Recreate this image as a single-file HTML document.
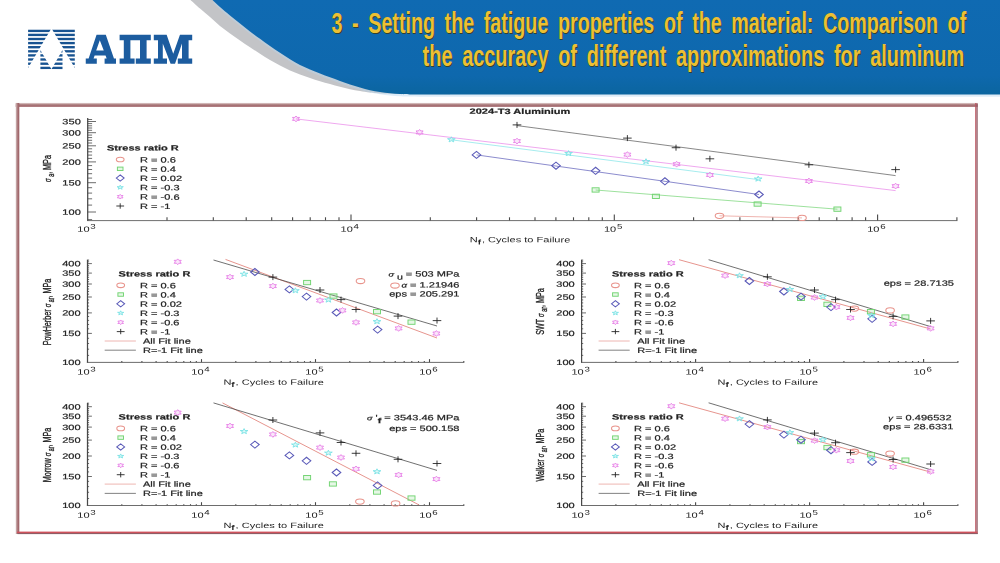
<!DOCTYPE html>
<html><head><meta charset="utf-8"><title>slide</title>
<style>html,body{margin:0;padding:0;background:#fff}body{width:1000px;height:563px;overflow:hidden}svg{display:block}svg text{font-family:"Liberation Sans", sans-serif}</style>
</head><body>
<svg width="1000" height="563" viewBox="0 0 1000 563">
<rect width="1000" height="563" fill="#ffffff"/>
<defs>
<linearGradient id="gb" x1="0" y1="0" x2="0" y2="1"><stop offset="0" stop-color="#0f6ab2"/><stop offset="0.8" stop-color="#0e68ad"/><stop offset="1" stop-color="#0b659f"/></linearGradient>
<linearGradient id="gl" x1="0" y1="0" x2="0" y2="1"><stop offset="0" stop-color="#a9cdea"/><stop offset="1" stop-color="#ffffff"/></linearGradient>
<filter id="bl" x="-2%" y="-2%" width="104%" height="104%"><feGaussianBlur stdDeviation="0.7 0.5"/></filter>
<filter id="bl2" x="-5%" y="-5%" width="110%" height="110%"><feGaussianBlur stdDeviation="0.6"/></filter>
</defs>
<path d="M190.50,0.00 C192.08,1.42 196.75,5.67 200.00,8.50 C203.25,11.33 206.67,14.08 210.00,17.00 C213.33,19.92 216.67,23.25 220.00,26.00 C223.33,28.75 226.67,31.08 230.00,33.50 C233.33,35.92 236.67,38.22 240.00,40.50 C243.33,42.78 246.67,45.00 250.00,47.20 C253.33,49.40 256.67,51.57 260.00,53.70 C263.33,55.83 266.67,58.03 270.00,60.00 C273.33,61.97 276.67,63.75 280.00,65.50 C283.33,67.25 286.67,69.00 290.00,70.50 C293.33,72.00 296.67,73.25 300.00,74.50 C303.33,75.75 306.67,76.88 310.00,78.00 C313.33,79.12 316.67,80.20 320.00,81.20 C323.33,82.20 326.67,83.07 330.00,84.00 C333.33,84.93 336.67,85.93 340.00,86.80 C343.33,87.67 346.67,88.50 350.00,89.20 C353.33,89.90 356.67,90.45 360.00,91.00 C363.33,91.55 366.33,92.07 370.00,92.50 C373.67,92.93 380.00,93.42 382.00,93.60 L450,94.6 L450,0 Z" fill="#c3c4c7"/>
<path d="M212.50,2.20 C213.75,3.37 217.08,6.62 220.00,9.20 C222.92,11.78 226.67,14.95 230.00,17.70 C233.33,20.45 236.67,23.03 240.00,25.70 C243.33,28.37 246.67,31.15 250.00,33.70 C253.33,36.25 256.67,38.58 260.00,41.00 C263.33,43.42 266.67,45.88 270.00,48.20 C273.33,50.52 276.67,52.68 280.00,54.90 C283.33,57.12 286.67,59.45 290.00,61.50 C293.33,63.55 296.67,65.50 300.00,67.20 C303.33,68.90 306.67,70.28 310.00,71.70 C313.33,73.12 316.67,74.40 320.00,75.70 C323.33,77.00 326.67,78.25 330.00,79.50 C333.33,80.75 336.67,82.00 340.00,83.20 C343.33,84.40 346.67,85.60 350.00,86.70 C353.33,87.80 356.67,88.85 360.00,89.80 C363.33,90.75 366.67,91.67 370.00,92.40 C373.33,93.13 376.67,93.70 380.00,94.20 C383.33,94.70 386.67,95.07 390.00,95.40 C393.33,95.73 396.67,96.00 400.00,96.20 C403.33,96.40 405.00,96.50 410.00,96.60 C415.00,96.70 423.33,96.77 430.00,96.80 C436.67,96.83 446.67,96.80 450.00,96.80 L1000,96.8 L1000,0 Z" fill="#b9d6ee" opacity="0.45" filter="url(#bl2)"/>
<path d="M212.50,0.00 C213.75,1.17 217.08,4.42 220.00,7.00 C222.92,9.58 226.67,12.75 230.00,15.50 C233.33,18.25 236.67,20.83 240.00,23.50 C243.33,26.17 246.67,28.95 250.00,31.50 C253.33,34.05 256.67,36.38 260.00,38.80 C263.33,41.22 266.67,43.68 270.00,46.00 C273.33,48.32 276.67,50.48 280.00,52.70 C283.33,54.92 286.67,57.25 290.00,59.30 C293.33,61.35 296.67,63.30 300.00,65.00 C303.33,66.70 306.67,68.08 310.00,69.50 C313.33,70.92 316.67,72.20 320.00,73.50 C323.33,74.80 326.67,76.05 330.00,77.30 C333.33,78.55 336.67,79.80 340.00,81.00 C343.33,82.20 346.67,83.40 350.00,84.50 C353.33,85.60 356.67,86.65 360.00,87.60 C363.33,88.55 366.67,89.47 370.00,90.20 C373.33,90.93 376.67,91.50 380.00,92.00 C383.33,92.50 386.67,92.87 390.00,93.20 C393.33,93.53 396.67,93.80 400.00,94.00 C403.33,94.20 405.00,94.30 410.00,94.40 C415.00,94.50 423.33,94.57 430.00,94.60 C436.67,94.63 446.67,94.60 450.00,94.60 L1000,94.6 L1000,0 Z" fill="url(#gb)"/>
<defs><clipPath id="lc">
<polygon points="28.1,29 51.0,29 28.1,68.1"/>
<polygon points="74.8,29 51.9,29 74.8,68.1"/>
<polygon points="40.4,50.0 40.4,70 51.45,69.2"/>
<polygon points="62.5,50.0 62.5,70 51.45,69.2"/>
</clipPath></defs>
<g clip-path="url(#lc)" fill="#185391">
<rect x="28" y="29.73" width="47" height="2.35"/>
<rect x="28" y="33.73" width="47" height="2.35"/>
<rect x="28" y="37.83" width="47" height="2.35"/>
<rect x="28" y="41.93" width="47" height="2.35"/>
<rect x="28" y="46.03" width="47" height="2.35"/>
<rect x="28" y="50.13" width="47" height="2.35"/>
<rect x="28" y="54.23" width="47" height="2.35"/>
<rect x="28" y="58.33" width="47" height="2.35"/>
<rect x="28" y="62.53" width="47" height="2.35"/>
<rect x="28" y="66.73" width="47" height="2.35"/>
</g>
<path fill="#1c5c9f" fill-rule="evenodd" d="M96.56,34.64 L105.80,34.64 L113.96,58.40 L116.00,58.40 L116.00,63.80 L104.60,63.80 L104.60,58.40 L106.64,58.40 L105.56,55.40 L94.64,55.40 L93.56,58.40 L96.80,58.40 L96.80,63.80 L85.76,63.80 L85.76,58.40 L88.64,58.40 Z M96.20,50.60 L103.76,50.60 L99.80,40.16 Z M119.60,34.64 L150.80,34.64 L150.80,40.16 L146.60,40.16 L146.60,58.40 L150.80,58.40 L150.80,63.80 L135.80,63.80 L135.80,58.40 L140.00,58.40 L140.00,40.16 L130.40,40.16 L130.40,58.40 L134.60,58.40 L134.60,63.80 L119.60,63.80 L119.60,58.40 L123.80,58.40 L123.80,40.16 L119.60,40.16 Z M153.80,34.64 L166.64,34.64 L173.24,53.84 L179.96,34.64 L192.20,34.64 L192.20,40.16 L188.60,40.16 L188.60,58.40 L192.20,58.40 L192.20,63.80 L177.80,63.80 L177.80,58.40 L182.00,58.40 L182.00,43.40 L175.04,63.80 L170.60,63.80 L162.80,43.40 L162.80,58.40 L167.00,58.40 L167.00,63.80 L153.80,63.80 L153.80,58.40 L158.00,58.40 L158.00,40.16 L153.80,40.16 Z"/>
<text x="332.4" y="33.6" font-family='"Liberation Sans", sans-serif' font-weight="bold" font-size="28.6" fill="#33402f" textLength="634.7" lengthAdjust="spacingAndGlyphs" word-spacing="6" xml:space="preserve">3 - Setting the fatigue properties of the material: Comparison of</text>
<text x="331.5" y="32.7" font-family='"Liberation Sans", sans-serif' font-weight="bold" font-size="28.6" fill="#ecc033" textLength="634.7" lengthAdjust="spacingAndGlyphs" word-spacing="6" xml:space="preserve">3 - Setting the fatigue properties of the material: Comparison of</text>
<text x="423.5" y="67.0" font-family='"Liberation Sans", sans-serif' font-weight="bold" font-size="28.6" fill="#33402f" textLength="541.6" lengthAdjust="spacingAndGlyphs" word-spacing="6" xml:space="preserve">the accuracy of different approximations for aluminum</text>
<text x="422.6" y="66.1" font-family='"Liberation Sans", sans-serif' font-weight="bold" font-size="28.6" fill="#ecc033" textLength="541.6" lengthAdjust="spacingAndGlyphs" word-spacing="6" xml:space="preserve">the accuracy of different approximations for aluminum</text>
<defs>
<linearGradient id="ft" x1="0" y1="0" x2="0" y2="1"><stop offset="0" stop-color="#e6d8d8"/><stop offset="0.35" stop-color="#b48a8b"/><stop offset="1" stop-color="#98575d"/></linearGradient>
<linearGradient id="fl" x1="0" y1="0" x2="1" y2="0"><stop offset="0" stop-color="#e6d8d8"/><stop offset="0.35" stop-color="#b48a8b"/><stop offset="1" stop-color="#98575d"/></linearGradient>
</defs>
<rect x="15.6" y="102.9" width="962.2" height="3.9" fill="url(#ft)"/>
<rect x="15.6" y="103" width="3.7" height="431" fill="url(#fl)"/>
<rect x="975.2" y="103" width="1.3" height="431" fill="#bb5560"/>
<rect x="976.5" y="103.5" width="1.2" height="430.5" fill="#8f5d66"/>
<rect x="17" y="531.6" width="960.5" height="1.4" fill="#cf525c"/>
<rect x="17.5" y="533" width="960.2" height="1.1" fill="#8f5d66"/>
<g filter="url(#bl)">
<line x1="87.7" y1="117.9" x2="87.7" y2="220.8" stroke="#484848" stroke-width="1.25"/>
<line x1="87.1" y1="220.6" x2="957.4" y2="220.6" stroke="#484848" stroke-width="0.80"/>
<line x1="167.0" y1="220.4" x2="167.0" y2="217.3" stroke="#484848" stroke-width="1.10"/>
<line x1="213.3" y1="220.4" x2="213.3" y2="217.3" stroke="#484848" stroke-width="1.10"/>
<line x1="246.2" y1="220.4" x2="246.2" y2="217.3" stroke="#484848" stroke-width="1.10"/>
<line x1="271.7" y1="220.4" x2="271.7" y2="217.3" stroke="#484848" stroke-width="1.10"/>
<line x1="292.6" y1="220.4" x2="292.6" y2="217.3" stroke="#484848" stroke-width="1.10"/>
<line x1="310.2" y1="220.4" x2="310.2" y2="217.3" stroke="#484848" stroke-width="1.10"/>
<line x1="325.5" y1="220.4" x2="325.5" y2="217.3" stroke="#484848" stroke-width="1.10"/>
<line x1="339.0" y1="220.4" x2="339.0" y2="217.3" stroke="#484848" stroke-width="1.10"/>
<line x1="351.0" y1="220.4" x2="351.0" y2="214.6" stroke="#484848" stroke-width="1.10"/>
<line x1="430.3" y1="220.4" x2="430.3" y2="217.3" stroke="#484848" stroke-width="1.10"/>
<line x1="476.6" y1="220.4" x2="476.6" y2="217.3" stroke="#484848" stroke-width="1.10"/>
<line x1="509.5" y1="220.4" x2="509.5" y2="217.3" stroke="#484848" stroke-width="1.10"/>
<line x1="535.0" y1="220.4" x2="535.0" y2="217.3" stroke="#484848" stroke-width="1.10"/>
<line x1="555.9" y1="220.4" x2="555.9" y2="217.3" stroke="#484848" stroke-width="1.10"/>
<line x1="573.5" y1="220.4" x2="573.5" y2="217.3" stroke="#484848" stroke-width="1.10"/>
<line x1="588.8" y1="220.4" x2="588.8" y2="217.3" stroke="#484848" stroke-width="1.10"/>
<line x1="602.3" y1="220.4" x2="602.3" y2="217.3" stroke="#484848" stroke-width="1.10"/>
<line x1="614.3" y1="220.4" x2="614.3" y2="214.6" stroke="#484848" stroke-width="1.10"/>
<line x1="693.6" y1="220.4" x2="693.6" y2="217.3" stroke="#484848" stroke-width="1.10"/>
<line x1="739.9" y1="220.4" x2="739.9" y2="217.3" stroke="#484848" stroke-width="1.10"/>
<line x1="772.8" y1="220.4" x2="772.8" y2="217.3" stroke="#484848" stroke-width="1.10"/>
<line x1="798.3" y1="220.4" x2="798.3" y2="217.3" stroke="#484848" stroke-width="1.10"/>
<line x1="819.2" y1="220.4" x2="819.2" y2="217.3" stroke="#484848" stroke-width="1.10"/>
<line x1="836.8" y1="220.4" x2="836.8" y2="217.3" stroke="#484848" stroke-width="1.10"/>
<line x1="852.1" y1="220.4" x2="852.1" y2="217.3" stroke="#484848" stroke-width="1.10"/>
<line x1="865.6" y1="220.4" x2="865.6" y2="217.3" stroke="#484848" stroke-width="1.10"/>
<line x1="877.6" y1="220.4" x2="877.6" y2="214.6" stroke="#484848" stroke-width="1.10"/>
<line x1="956.9" y1="220.4" x2="956.9" y2="217.3" stroke="#484848" stroke-width="1.10"/>
<line x1="87.7" y1="219.6" x2="92.1" y2="219.6" stroke="#484848" stroke-width="0.80"/>
<line x1="87.7" y1="212.0" x2="96.0" y2="212.0" stroke="#484848" stroke-width="0.80"/>
<line x1="87.7" y1="205.1" x2="92.1" y2="205.1" stroke="#484848" stroke-width="0.80"/>
<line x1="87.7" y1="198.8" x2="92.1" y2="198.8" stroke="#484848" stroke-width="0.80"/>
<line x1="87.7" y1="193.1" x2="92.1" y2="193.1" stroke="#484848" stroke-width="0.80"/>
<line x1="87.7" y1="187.7" x2="92.1" y2="187.7" stroke="#484848" stroke-width="0.80"/>
<line x1="87.7" y1="182.7" x2="96.0" y2="182.7" stroke="#484848" stroke-width="0.80"/>
<line x1="87.7" y1="178.1" x2="92.1" y2="178.1" stroke="#484848" stroke-width="0.80"/>
<line x1="87.7" y1="173.7" x2="92.1" y2="173.7" stroke="#484848" stroke-width="0.80"/>
<line x1="87.7" y1="169.5" x2="92.1" y2="169.5" stroke="#484848" stroke-width="0.80"/>
<line x1="87.7" y1="165.6" x2="92.1" y2="165.6" stroke="#484848" stroke-width="0.80"/>
<line x1="87.7" y1="161.9" x2="96.0" y2="161.9" stroke="#484848" stroke-width="0.80"/>
<line x1="87.7" y1="158.4" x2="92.1" y2="158.4" stroke="#484848" stroke-width="0.80"/>
<line x1="87.7" y1="155.1" x2="92.1" y2="155.1" stroke="#484848" stroke-width="0.80"/>
<line x1="87.7" y1="151.8" x2="92.1" y2="151.8" stroke="#484848" stroke-width="0.80"/>
<line x1="87.7" y1="148.8" x2="92.1" y2="148.8" stroke="#484848" stroke-width="0.80"/>
<line x1="87.7" y1="145.8" x2="96.0" y2="145.8" stroke="#484848" stroke-width="0.80"/>
<line x1="87.7" y1="143.0" x2="92.1" y2="143.0" stroke="#484848" stroke-width="0.80"/>
<line x1="87.7" y1="140.3" x2="92.1" y2="140.3" stroke="#484848" stroke-width="0.80"/>
<line x1="87.7" y1="137.6" x2="92.1" y2="137.6" stroke="#484848" stroke-width="0.80"/>
<line x1="87.7" y1="135.1" x2="92.1" y2="135.1" stroke="#484848" stroke-width="0.80"/>
<line x1="87.7" y1="132.7" x2="96.0" y2="132.7" stroke="#484848" stroke-width="0.80"/>
<line x1="87.7" y1="130.3" x2="92.1" y2="130.3" stroke="#484848" stroke-width="0.80"/>
<line x1="87.7" y1="128.0" x2="92.1" y2="128.0" stroke="#484848" stroke-width="0.80"/>
<line x1="87.7" y1="125.8" x2="92.1" y2="125.8" stroke="#484848" stroke-width="0.80"/>
<line x1="87.7" y1="123.6" x2="92.1" y2="123.6" stroke="#484848" stroke-width="0.80"/>
<line x1="87.7" y1="121.5" x2="96.0" y2="121.5" stroke="#484848" stroke-width="0.80"/>
<line x1="87.7" y1="119.5" x2="92.1" y2="119.5" stroke="#484848" stroke-width="0.80"/>
<text transform="translate(80.80,214.75) rotate(0.05) scale(1.435,1)" text-anchor="end" font-size="7.70" fill="#222" stroke="#222" stroke-width="0.2">100</text>
<text transform="translate(80.80,185.47) rotate(0.05) scale(1.435,1)" text-anchor="end" font-size="7.70" fill="#222" stroke="#222" stroke-width="0.2">150</text>
<text transform="translate(80.80,164.69) rotate(0.05) scale(1.435,1)" text-anchor="end" font-size="7.70" fill="#222" stroke="#222" stroke-width="0.2">200</text>
<text transform="translate(80.80,148.57) rotate(0.05) scale(1.435,1)" text-anchor="end" font-size="7.70" fill="#222" stroke="#222" stroke-width="0.2">250</text>
<text transform="translate(80.80,135.40) rotate(0.05) scale(1.435,1)" text-anchor="end" font-size="7.70" fill="#222" stroke="#222" stroke-width="0.2">300</text>
<text transform="translate(80.80,124.27) rotate(0.05) scale(1.435,1)" text-anchor="end" font-size="7.70" fill="#222" stroke="#222" stroke-width="0.2">350</text>
<text transform="translate(86.50,231.80) rotate(0.05) scale(1.435,1)" text-anchor="middle" font-size="7.70" fill="#222">10<tspan dy="-3.0" font-size="6.78" dx="0.5">3</tspan></text>
<text transform="translate(349.80,231.80) rotate(0.05) scale(1.435,1)" text-anchor="middle" font-size="7.70" fill="#222">10<tspan dy="-3.0" font-size="6.78" dx="0.5">4</tspan></text>
<text transform="translate(613.10,231.80) rotate(0.05) scale(1.435,1)" text-anchor="middle" font-size="7.70" fill="#222">10<tspan dy="-3.0" font-size="6.78" dx="0.5">5</tspan></text>
<text transform="translate(876.40,231.80) rotate(0.05) scale(1.435,1)" text-anchor="middle" font-size="7.70" fill="#222">10<tspan dy="-3.0" font-size="6.78" dx="0.5">6</tspan></text>
<text transform="translate(520.00,113.90) rotate(0.05) scale(1.435,1)" text-anchor="middle" font-size="7.70" font-weight="bold" fill="#222" stroke="#222" stroke-width="0.2">2024-T3 Aluminium</text>
<text transform="translate(469.80,242.30) rotate(0.05) scale(1.435,1)" font-size="7.70" fill="#222">N<tspan dy="2.2" font-size="6.93" font-weight="bold">f</tspan><tspan dy="-2.2" dx="0.6">, Cycles to Failure</tspan></text>
<text transform="translate(50.6,168.5) rotate(-90) scale(1,1.620)" text-anchor="middle" font-size="7.20" fill="#222" stroke="#222" stroke-width="0.22"><tspan font-style="italic" font-size="5.90">σ</tspan><tspan dy="1.9" font-size="5.40"> a</tspan><tspan dy="-1.9">, MPa</tspan></text>
<text transform="translate(107.00,150.40) rotate(0.05) scale(1.435,1)" text-anchor="start" font-size="7.70" font-weight="bold" fill="#222" stroke="#222" stroke-width="0.2">Stress ratio R</text>
<ellipse cx="120.2" cy="159.5" rx="3.87" ry="2.34" fill="none" stroke="#e8948c" stroke-width="1.05"/>
<text transform="translate(140.00,162.40) rotate(0.05) scale(1.435,1)" text-anchor="start" font-size="7.70" fill="#222" stroke="#222" stroke-width="0.2">R = 0.6</text>
<rect x="117.4" y="167.1" width="5.60" height="3.44" fill="#72d472" fill-opacity="0.18" stroke="#72d472" stroke-width="0.95"/>
<text transform="translate(140.00,171.70) rotate(0.05) scale(1.435,1)" text-anchor="start" font-size="7.70" fill="#222" stroke="#222" stroke-width="0.2">R = 0.4</text>
<polygon points="116.3,178.1 120.2,174.9 124.1,178.1 120.2,181.2" fill="none" stroke="#5a5ab8" stroke-width="1.05"/>
<text transform="translate(140.00,181.00) rotate(0.05) scale(1.435,1)" text-anchor="start" font-size="7.70" fill="#222" stroke="#222" stroke-width="0.2">R = 0.02</text>
<polygon points="120.20,185.16 120.95,186.69 123.29,186.71 121.41,187.67 122.11,189.21 120.20,188.28 118.29,189.21 118.99,187.67 117.11,186.71 119.45,186.69" fill="#7fe4e6" fill-opacity="0.25" stroke="#7fe4e6" stroke-width="0.95"/>
<text transform="translate(140.00,190.30) rotate(0.05) scale(1.435,1)" text-anchor="start" font-size="7.70" fill="#222" stroke="#222" stroke-width="0.2">R = -0.3</text>
<polygon points="120.20,194.38 121.15,195.52 123.01,195.54 122.10,196.70 123.01,197.86 121.15,197.88 120.20,199.02 119.25,197.88 117.39,197.86 118.30,196.70 117.39,195.54 119.25,195.52" fill="#e882e8" fill-opacity="0.2" stroke="#e882e8" stroke-width="0.95"/>
<text transform="translate(140.00,199.60) rotate(0.05) scale(1.435,1)" text-anchor="start" font-size="7.70" fill="#222" stroke="#222" stroke-width="0.2">R = -0.6</text>
<path d="M116.3,206.0 H124.1 M120.2,203.3 V208.7" fill="none" stroke="#1c1c1c" stroke-width="0.85"/>
<text transform="translate(140.00,208.90) rotate(0.05) scale(1.435,1)" text-anchor="start" font-size="7.70" fill="#222" stroke="#222" stroke-width="0.2">R = -1</text>
<line x1="719.5" y1="215.8" x2="802.0" y2="217.9" stroke="#e8948c" stroke-width="0.70"/>
<line x1="595.6" y1="190.0" x2="837.4" y2="209.2" stroke="#72d472" stroke-width="0.70"/>
<line x1="476.5" y1="154.9" x2="759.0" y2="194.5" stroke="#5a5ab8" stroke-width="0.70"/>
<line x1="451.4" y1="139.8" x2="758.2" y2="179.6" stroke="#7fe4e6" stroke-width="0.70"/>
<line x1="296.0" y1="118.9" x2="895.6" y2="190.6" stroke="#e882e8" stroke-width="0.70"/>
<line x1="517.0" y1="125.6" x2="895.6" y2="175.6" stroke="#555" stroke-width="0.70"/>
<ellipse cx="719.5" cy="215.8" rx="4.30" ry="2.60" fill="none" stroke="#e8948c" stroke-width="1.05"/>
<ellipse cx="802.0" cy="217.9" rx="4.30" ry="2.60" fill="none" stroke="#e8948c" stroke-width="1.05"/>
<rect x="592.1" y="187.8" width="7.00" height="4.30" fill="#72d472" fill-opacity="0.18" stroke="#72d472" stroke-width="0.95"/>
<rect x="652.4" y="194.2" width="7.00" height="4.30" fill="#72d472" fill-opacity="0.18" stroke="#72d472" stroke-width="0.95"/>
<rect x="754.1" y="201.9" width="7.00" height="4.30" fill="#72d472" fill-opacity="0.18" stroke="#72d472" stroke-width="0.95"/>
<rect x="833.9" y="207.0" width="7.00" height="4.30" fill="#72d472" fill-opacity="0.18" stroke="#72d472" stroke-width="0.95"/>
<polygon points="472.2,154.9 476.5,151.4 480.8,154.9 476.5,158.4" fill="none" stroke="#5a5ab8" stroke-width="1.05"/>
<polygon points="551.7,165.7 556.0,162.2 560.3,165.7 556.0,169.2" fill="none" stroke="#5a5ab8" stroke-width="1.05"/>
<polygon points="591.3,170.8 595.6,167.3 599.9,170.8 595.6,174.3" fill="none" stroke="#5a5ab8" stroke-width="1.05"/>
<polygon points="660.6,181.3 664.9,177.8 669.2,181.3 664.9,184.8" fill="none" stroke="#5a5ab8" stroke-width="1.05"/>
<polygon points="754.7,194.5 759.0,191.0 763.3,194.5 759.0,198.0" fill="none" stroke="#5a5ab8" stroke-width="1.05"/>
<polygon points="451.40,136.80 452.34,138.71 455.26,138.73 452.92,139.94 453.79,141.87 451.40,140.70 449.01,141.87 449.88,139.94 447.54,138.73 450.46,138.71" fill="#7fe4e6" fill-opacity="0.25" stroke="#7fe4e6" stroke-width="0.95"/>
<polygon points="568.60,150.60 569.54,152.51 572.46,152.53 570.12,153.74 570.99,155.67 568.60,154.50 566.21,155.67 567.08,153.74 564.74,152.53 567.66,152.51" fill="#7fe4e6" fill-opacity="0.25" stroke="#7fe4e6" stroke-width="0.95"/>
<polygon points="646.00,158.70 646.94,160.61 649.86,160.63 647.52,161.84 648.39,163.77 646.00,162.60 643.61,163.77 644.48,161.84 642.14,160.63 645.06,160.61" fill="#7fe4e6" fill-opacity="0.25" stroke="#7fe4e6" stroke-width="0.95"/>
<polygon points="758.20,176.10 759.14,178.01 762.06,178.03 759.72,179.24 760.59,181.17 758.20,180.00 755.81,181.17 756.68,179.24 754.34,178.03 757.26,178.01" fill="#7fe4e6" fill-opacity="0.25" stroke="#7fe4e6" stroke-width="0.95"/>
<polygon points="296.00,116.00 297.19,117.43 299.52,117.45 298.38,118.90 299.52,120.35 297.19,120.37 296.00,121.80 294.81,120.37 292.48,120.35 293.62,118.90 292.48,117.45 294.81,117.43" fill="#e882e8" fill-opacity="0.2" stroke="#e882e8" stroke-width="0.95"/>
<polygon points="419.60,129.50 420.79,130.93 423.12,130.95 421.98,132.40 423.12,133.85 420.79,133.87 419.60,135.30 418.41,133.87 416.08,133.85 417.22,132.40 416.08,130.95 418.41,130.93" fill="#e882e8" fill-opacity="0.2" stroke="#e882e8" stroke-width="0.95"/>
<polygon points="517.00,138.20 518.19,139.63 520.52,139.65 519.38,141.10 520.52,142.55 518.19,142.57 517.00,144.00 515.81,142.57 513.48,142.55 514.62,141.10 513.48,139.65 515.81,139.63" fill="#e882e8" fill-opacity="0.2" stroke="#e882e8" stroke-width="0.95"/>
<polygon points="627.40,151.70 628.59,153.13 630.92,153.15 629.78,154.60 630.92,156.05 628.59,156.07 627.40,157.50 626.21,156.07 623.88,156.05 625.02,154.60 623.88,153.15 626.21,153.13" fill="#e882e8" fill-opacity="0.2" stroke="#e882e8" stroke-width="0.95"/>
<polygon points="676.60,161.30 677.79,162.73 680.12,162.75 678.98,164.20 680.12,165.65 677.79,165.67 676.60,167.10 675.41,165.67 673.08,165.65 674.22,164.20 673.08,162.75 675.41,162.73" fill="#e882e8" fill-opacity="0.2" stroke="#e882e8" stroke-width="0.95"/>
<polygon points="709.90,172.10 711.09,173.53 713.42,173.55 712.28,175.00 713.42,176.45 711.09,176.47 709.90,177.90 708.71,176.47 706.38,176.45 707.52,175.00 706.38,173.55 708.71,173.53" fill="#e882e8" fill-opacity="0.2" stroke="#e882e8" stroke-width="0.95"/>
<polygon points="808.90,178.10 810.09,179.53 812.42,179.55 811.28,181.00 812.42,182.45 810.09,182.47 808.90,183.90 807.71,182.47 805.38,182.45 806.52,181.00 805.38,179.55 807.71,179.53" fill="#e882e8" fill-opacity="0.2" stroke="#e882e8" stroke-width="0.95"/>
<polygon points="895.60,183.20 896.79,184.63 899.12,184.65 897.98,186.10 899.12,187.55 896.79,187.57 895.60,189.00 894.41,187.57 892.08,187.55 893.22,186.10 892.08,184.65 894.41,184.63" fill="#e882e8" fill-opacity="0.2" stroke="#e882e8" stroke-width="0.95"/>
<path d="M512.7,124.9 H521.3 M517.0,121.9 V127.9" fill="none" stroke="#1c1c1c" stroke-width="0.85"/>
<path d="M623.1,138.1 H631.7 M627.4,135.1 V141.1" fill="none" stroke="#1c1c1c" stroke-width="0.85"/>
<path d="M671.7,147.7 H680.3 M676.0,144.7 V150.7" fill="none" stroke="#1c1c1c" stroke-width="0.85"/>
<path d="M705.6,158.8 H714.2 M709.9,155.8 V161.8" fill="none" stroke="#1c1c1c" stroke-width="0.85"/>
<path d="M804.6,164.8 H813.2 M808.9,161.8 V167.8" fill="none" stroke="#1c1c1c" stroke-width="0.85"/>
<path d="M891.3,169.6 H899.9 M895.6,166.6 V172.6" fill="none" stroke="#1c1c1c" stroke-width="0.85"/>
<line x1="87.5" y1="259.7" x2="87.5" y2="362.6" stroke="#484848" stroke-width="1.25"/>
<line x1="86.9" y1="362.4" x2="464.3" y2="362.4" stroke="#484848" stroke-width="0.80"/>
<line x1="121.8" y1="362.2" x2="121.8" y2="361.1" stroke="#484848" stroke-width="1.10"/>
<line x1="141.9" y1="362.2" x2="141.9" y2="361.1" stroke="#484848" stroke-width="1.10"/>
<line x1="156.1" y1="362.2" x2="156.1" y2="361.1" stroke="#484848" stroke-width="1.10"/>
<line x1="167.2" y1="362.2" x2="167.2" y2="361.1" stroke="#484848" stroke-width="1.10"/>
<line x1="176.2" y1="362.2" x2="176.2" y2="361.1" stroke="#484848" stroke-width="1.10"/>
<line x1="183.8" y1="362.2" x2="183.8" y2="361.1" stroke="#484848" stroke-width="1.10"/>
<line x1="190.5" y1="362.2" x2="190.5" y2="361.1" stroke="#484848" stroke-width="1.10"/>
<line x1="196.3" y1="362.2" x2="196.3" y2="361.1" stroke="#484848" stroke-width="1.10"/>
<line x1="201.5" y1="362.2" x2="201.5" y2="359.1" stroke="#484848" stroke-width="1.10"/>
<line x1="235.8" y1="362.2" x2="235.8" y2="361.1" stroke="#484848" stroke-width="1.10"/>
<line x1="255.9" y1="362.2" x2="255.9" y2="361.1" stroke="#484848" stroke-width="1.10"/>
<line x1="270.1" y1="362.2" x2="270.1" y2="361.1" stroke="#484848" stroke-width="1.10"/>
<line x1="281.2" y1="362.2" x2="281.2" y2="361.1" stroke="#484848" stroke-width="1.10"/>
<line x1="290.2" y1="362.2" x2="290.2" y2="361.1" stroke="#484848" stroke-width="1.10"/>
<line x1="297.8" y1="362.2" x2="297.8" y2="361.1" stroke="#484848" stroke-width="1.10"/>
<line x1="304.5" y1="362.2" x2="304.5" y2="361.1" stroke="#484848" stroke-width="1.10"/>
<line x1="310.3" y1="362.2" x2="310.3" y2="361.1" stroke="#484848" stroke-width="1.10"/>
<line x1="315.5" y1="362.2" x2="315.5" y2="359.1" stroke="#484848" stroke-width="1.10"/>
<line x1="349.8" y1="362.2" x2="349.8" y2="361.1" stroke="#484848" stroke-width="1.10"/>
<line x1="369.9" y1="362.2" x2="369.9" y2="361.1" stroke="#484848" stroke-width="1.10"/>
<line x1="384.1" y1="362.2" x2="384.1" y2="361.1" stroke="#484848" stroke-width="1.10"/>
<line x1="395.2" y1="362.2" x2="395.2" y2="361.1" stroke="#484848" stroke-width="1.10"/>
<line x1="404.2" y1="362.2" x2="404.2" y2="361.1" stroke="#484848" stroke-width="1.10"/>
<line x1="411.8" y1="362.2" x2="411.8" y2="361.1" stroke="#484848" stroke-width="1.10"/>
<line x1="418.5" y1="362.2" x2="418.5" y2="361.1" stroke="#484848" stroke-width="1.10"/>
<line x1="424.3" y1="362.2" x2="424.3" y2="361.1" stroke="#484848" stroke-width="1.10"/>
<line x1="429.5" y1="362.2" x2="429.5" y2="359.1" stroke="#484848" stroke-width="1.10"/>
<line x1="463.8" y1="362.2" x2="463.8" y2="361.1" stroke="#484848" stroke-width="1.10"/>
<line x1="87.5" y1="355.4" x2="89.1" y2="355.4" stroke="#484848" stroke-width="0.80"/>
<line x1="87.5" y1="349.2" x2="89.1" y2="349.2" stroke="#484848" stroke-width="0.80"/>
<line x1="87.5" y1="343.5" x2="89.1" y2="343.5" stroke="#484848" stroke-width="0.80"/>
<line x1="87.5" y1="338.3" x2="89.1" y2="338.3" stroke="#484848" stroke-width="0.80"/>
<line x1="87.5" y1="333.4" x2="91.9" y2="333.4" stroke="#484848" stroke-width="0.80"/>
<line x1="87.5" y1="328.8" x2="89.1" y2="328.8" stroke="#484848" stroke-width="0.80"/>
<line x1="87.5" y1="324.5" x2="89.1" y2="324.5" stroke="#484848" stroke-width="0.80"/>
<line x1="87.5" y1="320.4" x2="89.1" y2="320.4" stroke="#484848" stroke-width="0.80"/>
<line x1="87.5" y1="316.5" x2="89.1" y2="316.5" stroke="#484848" stroke-width="0.80"/>
<line x1="87.5" y1="312.9" x2="91.9" y2="312.9" stroke="#484848" stroke-width="0.80"/>
<line x1="87.5" y1="309.4" x2="89.1" y2="309.4" stroke="#484848" stroke-width="0.80"/>
<line x1="87.5" y1="306.1" x2="89.1" y2="306.1" stroke="#484848" stroke-width="0.80"/>
<line x1="87.5" y1="302.9" x2="89.1" y2="302.9" stroke="#484848" stroke-width="0.80"/>
<line x1="87.5" y1="299.9" x2="89.1" y2="299.9" stroke="#484848" stroke-width="0.80"/>
<line x1="87.5" y1="297.0" x2="91.9" y2="297.0" stroke="#484848" stroke-width="0.80"/>
<line x1="87.5" y1="294.2" x2="89.1" y2="294.2" stroke="#484848" stroke-width="0.80"/>
<line x1="87.5" y1="291.5" x2="89.1" y2="291.5" stroke="#484848" stroke-width="0.80"/>
<line x1="87.5" y1="289.0" x2="89.1" y2="289.0" stroke="#484848" stroke-width="0.80"/>
<line x1="87.5" y1="286.5" x2="89.1" y2="286.5" stroke="#484848" stroke-width="0.80"/>
<line x1="87.5" y1="284.0" x2="91.9" y2="284.0" stroke="#484848" stroke-width="0.80"/>
<line x1="87.5" y1="281.7" x2="89.1" y2="281.7" stroke="#484848" stroke-width="0.80"/>
<line x1="87.5" y1="279.5" x2="89.1" y2="279.5" stroke="#484848" stroke-width="0.80"/>
<line x1="87.5" y1="277.3" x2="89.1" y2="277.3" stroke="#484848" stroke-width="0.80"/>
<line x1="87.5" y1="275.1" x2="89.1" y2="275.1" stroke="#484848" stroke-width="0.80"/>
<line x1="87.5" y1="273.1" x2="91.9" y2="273.1" stroke="#484848" stroke-width="0.80"/>
<line x1="87.5" y1="271.1" x2="89.1" y2="271.1" stroke="#484848" stroke-width="0.80"/>
<line x1="87.5" y1="269.1" x2="89.1" y2="269.1" stroke="#484848" stroke-width="0.80"/>
<line x1="87.5" y1="267.2" x2="89.1" y2="267.2" stroke="#484848" stroke-width="0.80"/>
<line x1="87.5" y1="265.4" x2="89.1" y2="265.4" stroke="#484848" stroke-width="0.80"/>
<line x1="87.5" y1="263.6" x2="91.9" y2="263.6" stroke="#484848" stroke-width="0.80"/>
<line x1="87.5" y1="261.8" x2="89.1" y2="261.8" stroke="#484848" stroke-width="0.80"/>
<line x1="87.5" y1="260.1" x2="89.1" y2="260.1" stroke="#484848" stroke-width="0.80"/>
<text transform="translate(80.60,364.95) rotate(0.05) scale(1.435,1)" text-anchor="end" font-size="7.70" fill="#222" stroke="#222" stroke-width="0.2">100</text>
<text transform="translate(80.60,336.11) rotate(0.05) scale(1.435,1)" text-anchor="end" font-size="7.70" fill="#222" stroke="#222" stroke-width="0.2">150</text>
<text transform="translate(80.60,315.64) rotate(0.05) scale(1.435,1)" text-anchor="end" font-size="7.70" fill="#222" stroke="#222" stroke-width="0.2">200</text>
<text transform="translate(80.60,299.77) rotate(0.05) scale(1.435,1)" text-anchor="end" font-size="7.70" fill="#222" stroke="#222" stroke-width="0.2">250</text>
<text transform="translate(80.60,286.80) rotate(0.05) scale(1.435,1)" text-anchor="end" font-size="7.70" fill="#222" stroke="#222" stroke-width="0.2">300</text>
<text transform="translate(80.60,275.83) rotate(0.05) scale(1.435,1)" text-anchor="end" font-size="7.70" fill="#222" stroke="#222" stroke-width="0.2">350</text>
<text transform="translate(80.60,266.33) rotate(0.05) scale(1.435,1)" text-anchor="end" font-size="7.70" fill="#222" stroke="#222" stroke-width="0.2">400</text>
<text transform="translate(86.50,374.60) rotate(0.05) scale(1.435,1)" text-anchor="middle" font-size="7.70" fill="#222">10<tspan dy="-3.0" font-size="6.78" dx="0.5">3</tspan></text>
<text transform="translate(200.50,374.60) rotate(0.05) scale(1.435,1)" text-anchor="middle" font-size="7.70" fill="#222">10<tspan dy="-3.0" font-size="6.78" dx="0.5">4</tspan></text>
<text transform="translate(314.50,374.60) rotate(0.05) scale(1.435,1)" text-anchor="middle" font-size="7.70" fill="#222">10<tspan dy="-3.0" font-size="6.78" dx="0.5">5</tspan></text>
<text transform="translate(428.50,374.60) rotate(0.05) scale(1.435,1)" text-anchor="middle" font-size="7.70" fill="#222">10<tspan dy="-3.0" font-size="6.78" dx="0.5">6</tspan></text>
<text transform="translate(118.60,276.40) rotate(0.05) scale(1.435,1)" text-anchor="start" font-size="7.70" font-weight="bold" fill="#222" stroke="#222" stroke-width="0.2">Stress ratio R</text>
<ellipse cx="120.7" cy="285.3" rx="3.87" ry="2.34" fill="none" stroke="#e8948c" stroke-width="1.05"/>
<text transform="translate(139.90,288.20) rotate(0.05) scale(1.435,1)" text-anchor="start" font-size="7.70" fill="#222" stroke="#222" stroke-width="0.2">R = 0.6</text>
<rect x="117.9" y="292.8" width="5.60" height="3.44" fill="#72d472" fill-opacity="0.18" stroke="#72d472" stroke-width="0.95"/>
<text transform="translate(139.90,297.45) rotate(0.05) scale(1.435,1)" text-anchor="start" font-size="7.70" fill="#222" stroke="#222" stroke-width="0.2">R = 0.4</text>
<polygon points="116.8,303.8 120.7,300.7 124.6,303.8 120.7,306.9" fill="none" stroke="#5a5ab8" stroke-width="1.05"/>
<text transform="translate(139.90,306.70) rotate(0.05) scale(1.435,1)" text-anchor="start" font-size="7.70" fill="#222" stroke="#222" stroke-width="0.2">R = 0.02</text>
<polygon points="120.70,310.81 121.45,312.34 123.79,312.36 121.91,313.32 122.61,314.86 120.70,313.93 118.79,314.86 119.49,313.32 117.61,312.36 119.95,312.34" fill="#7fe4e6" fill-opacity="0.25" stroke="#7fe4e6" stroke-width="0.95"/>
<text transform="translate(139.90,315.95) rotate(0.05) scale(1.435,1)" text-anchor="start" font-size="7.70" fill="#222" stroke="#222" stroke-width="0.2">R = -0.3</text>
<polygon points="120.70,319.98 121.65,321.12 123.51,321.14 122.60,322.30 123.51,323.46 121.65,323.48 120.70,324.62 119.75,323.48 117.89,323.46 118.80,322.30 117.89,321.14 119.75,321.12" fill="#e882e8" fill-opacity="0.2" stroke="#e882e8" stroke-width="0.95"/>
<text transform="translate(139.90,325.20) rotate(0.05) scale(1.435,1)" text-anchor="start" font-size="7.70" fill="#222" stroke="#222" stroke-width="0.2">R = -0.6</text>
<path d="M116.8,331.6 H124.6 M120.7,328.9 V334.2" fill="none" stroke="#1c1c1c" stroke-width="0.85"/>
<text transform="translate(139.90,334.45) rotate(0.05) scale(1.435,1)" text-anchor="start" font-size="7.70" fill="#222" stroke="#222" stroke-width="0.2">R = -1</text>
<line x1="104.7" y1="341.0" x2="135.9" y2="341.0" stroke="#e58f88" stroke-width="0.65"/>
<text transform="translate(143.00,343.70) rotate(0.05) scale(1.435,1)" text-anchor="start" font-size="7.70" fill="#222" stroke="#222" stroke-width="0.2">All Fit line</text>
<line x1="104.7" y1="350.2" x2="135.9" y2="350.2" stroke="#333" stroke-width="0.60"/>
<text transform="translate(143.00,352.95) rotate(0.05) scale(1.435,1)" text-anchor="start" font-size="7.70" fill="#222" stroke="#222" stroke-width="0.2">R=-1 Fit line</text>
<text transform="translate(223.40,384.80) rotate(0.05) scale(1.435,1)" font-size="7.70" fill="#222">N<tspan dy="2.2" font-size="6.93" font-weight="bold">f</tspan><tspan dy="-2.2" dx="0.6">, Cycles to Failure</tspan></text>
<text transform="translate(51.0,312.0) rotate(-90) scale(1,1.620)" text-anchor="middle" font-size="7.20" fill="#222" stroke="#222" stroke-width="0.22">PowHerber <tspan font-style="italic" font-size="5.90">σ</tspan><tspan dy="1.9" font-size="5.40"> ar</tspan><tspan dy="-1.9">, MPa</tspan></text>
<line x1="225.5" y1="259.4" x2="437.0" y2="338.0" stroke="#e58f88" stroke-width="0.95"/>
<line x1="213.5" y1="260.0" x2="437.0" y2="326.0" stroke="#333" stroke-width="0.70"/>
<ellipse cx="360.5" cy="281.0" rx="4.30" ry="2.60" fill="none" stroke="#e8948c" stroke-width="1.05"/>
<ellipse cx="395.0" cy="285.5" rx="4.30" ry="2.60" fill="none" stroke="#e8948c" stroke-width="1.05"/>
<rect x="303.6" y="280.4" width="7.00" height="4.30" fill="#72d472" fill-opacity="0.18" stroke="#72d472" stroke-width="0.95"/>
<rect x="330.0" y="293.9" width="7.00" height="4.30" fill="#72d472" fill-opacity="0.18" stroke="#72d472" stroke-width="0.95"/>
<rect x="373.5" y="309.5" width="7.00" height="4.30" fill="#72d472" fill-opacity="0.18" stroke="#72d472" stroke-width="0.95"/>
<rect x="408.0" y="320.0" width="7.00" height="4.30" fill="#72d472" fill-opacity="0.18" stroke="#72d472" stroke-width="0.95"/>
<polygon points="250.6,272.0 254.9,268.5 259.2,272.0 254.9,275.5" fill="none" stroke="#5a5ab8" stroke-width="1.05"/>
<polygon points="285.1,289.4 289.4,285.9 293.7,289.4 289.4,292.9" fill="none" stroke="#5a5ab8" stroke-width="1.05"/>
<polygon points="302.2,296.6 306.5,293.1 310.8,296.6 306.5,300.1" fill="none" stroke="#5a5ab8" stroke-width="1.05"/>
<polygon points="332.2,312.5 336.5,309.0 340.8,312.5 336.5,316.0" fill="none" stroke="#5a5ab8" stroke-width="1.05"/>
<polygon points="373.3,329.6 377.6,326.1 381.9,329.6 377.6,333.1" fill="none" stroke="#5a5ab8" stroke-width="1.05"/>
<polygon points="244.10,271.30 245.04,273.21 247.96,273.23 245.62,274.44 246.49,276.37 244.10,275.20 241.71,276.37 242.58,274.44 240.24,273.23 243.16,273.21" fill="#7fe4e6" fill-opacity="0.25" stroke="#7fe4e6" stroke-width="0.95"/>
<polygon points="295.40,287.80 296.34,289.71 299.26,289.73 296.92,290.94 297.79,292.87 295.40,291.70 293.01,292.87 293.88,290.94 291.54,289.73 294.46,289.71" fill="#7fe4e6" fill-opacity="0.25" stroke="#7fe4e6" stroke-width="0.95"/>
<polygon points="328.40,297.10 329.34,299.01 332.26,299.03 329.92,300.24 330.79,302.17 328.40,301.00 326.01,302.17 326.88,300.24 324.54,299.03 327.46,299.01" fill="#7fe4e6" fill-opacity="0.25" stroke="#7fe4e6" stroke-width="0.95"/>
<polygon points="377.00,318.70 377.94,320.61 380.86,320.63 378.52,321.84 379.39,323.77 377.00,322.60 374.61,323.77 375.48,321.84 373.14,320.63 376.06,320.61" fill="#7fe4e6" fill-opacity="0.25" stroke="#7fe4e6" stroke-width="0.95"/>
<polygon points="177.70,258.90 178.89,260.33 181.22,260.35 180.08,261.80 181.22,263.25 178.89,263.27 177.70,264.70 176.51,263.27 174.18,263.25 175.32,261.80 174.18,260.35 176.51,260.33" fill="#e882e8" fill-opacity="0.2" stroke="#e882e8" stroke-width="0.95"/>
<polygon points="230.00,274.20 231.19,275.63 233.52,275.65 232.38,277.10 233.52,278.55 231.19,278.57 230.00,280.00 228.81,278.57 226.48,278.55 227.62,277.10 226.48,275.65 228.81,275.63" fill="#e882e8" fill-opacity="0.2" stroke="#e882e8" stroke-width="0.95"/>
<polygon points="272.90,283.20 274.09,284.63 276.42,284.65 275.28,286.10 276.42,287.55 274.09,287.57 272.90,289.00 271.71,287.57 269.38,287.55 270.52,286.10 269.38,284.65 271.71,284.63" fill="#e882e8" fill-opacity="0.2" stroke="#e882e8" stroke-width="0.95"/>
<polygon points="320.00,297.60 321.19,299.03 323.52,299.05 322.38,300.50 323.52,301.95 321.19,301.97 320.00,303.40 318.81,301.97 316.48,301.95 317.62,300.50 316.48,299.05 318.81,299.03" fill="#e882e8" fill-opacity="0.2" stroke="#e882e8" stroke-width="0.95"/>
<polygon points="342.50,307.50 343.69,308.93 346.02,308.95 344.88,310.40 346.02,311.85 343.69,311.87 342.50,313.30 341.31,311.87 338.98,311.85 340.12,310.40 338.98,308.95 341.31,308.93" fill="#e882e8" fill-opacity="0.2" stroke="#e882e8" stroke-width="0.95"/>
<polygon points="356.00,319.50 357.19,320.93 359.52,320.95 358.38,322.40 359.52,323.85 357.19,323.87 356.00,325.30 354.81,323.87 352.48,323.85 353.62,322.40 352.48,320.95 354.81,320.93" fill="#e882e8" fill-opacity="0.2" stroke="#e882e8" stroke-width="0.95"/>
<polygon points="398.60,325.50 399.79,326.93 402.12,326.95 400.98,328.40 402.12,329.85 399.79,329.87 398.60,331.30 397.41,329.87 395.08,329.85 396.22,328.40 395.08,326.95 397.41,326.93" fill="#e882e8" fill-opacity="0.2" stroke="#e882e8" stroke-width="0.95"/>
<polygon points="436.40,330.60 437.59,332.03 439.92,332.05 438.78,333.50 439.92,334.95 437.59,334.97 436.40,336.40 435.21,334.97 432.88,334.95 434.02,333.50 432.88,332.05 435.21,332.03" fill="#e882e8" fill-opacity="0.2" stroke="#e882e8" stroke-width="0.95"/>
<path d="M268.6,277.1 H277.2 M272.9,274.1 V280.1" fill="none" stroke="#1c1c1c" stroke-width="0.85"/>
<path d="M315.7,290.0 H324.3 M320.0,287.0 V293.0" fill="none" stroke="#1c1c1c" stroke-width="0.85"/>
<path d="M336.7,299.6 H345.3 M341.0,296.6 V302.6" fill="none" stroke="#1c1c1c" stroke-width="0.85"/>
<path d="M351.7,309.5 H360.3 M356.0,306.5 V312.5" fill="none" stroke="#1c1c1c" stroke-width="0.85"/>
<path d="M393.7,316.1 H402.3 M398.0,313.1 V319.1" fill="none" stroke="#1c1c1c" stroke-width="0.85"/>
<path d="M432.7,320.6 H441.3 M437.0,317.6 V323.6" fill="none" stroke="#1c1c1c" stroke-width="0.85"/>
<text transform="translate(459.50,276.60) rotate(0.05) scale(1.435,1)" text-anchor="end" font-size="7.70" fill="#222" stroke="#222" stroke-width="0.2"><tspan font-style="italic" font-size="6.4">σ</tspan><tspan dy="3" font-size="7.4"> u </tspan><tspan dy="-3"> = 503 MPa</tspan></text>
<text transform="translate(459.50,287.50) rotate(0.05) scale(1.435,1)" text-anchor="end" font-size="7.70" fill="#222" stroke="#222" stroke-width="0.2"><tspan font-style="italic" font-size="6.8">α</tspan> = 1.21946</text>
<text transform="translate(459.50,296.60) rotate(0.05) scale(1.435,1)" text-anchor="end" font-size="7.70" fill="#222" stroke="#222" stroke-width="0.2">eps = 205.291</text>
<line x1="581.6" y1="259.7" x2="581.6" y2="362.6" stroke="#484848" stroke-width="1.25"/>
<line x1="581.0" y1="362.4" x2="958.4" y2="362.4" stroke="#484848" stroke-width="0.80"/>
<line x1="615.9" y1="362.2" x2="615.9" y2="361.1" stroke="#484848" stroke-width="1.10"/>
<line x1="636.0" y1="362.2" x2="636.0" y2="361.1" stroke="#484848" stroke-width="1.10"/>
<line x1="650.2" y1="362.2" x2="650.2" y2="361.1" stroke="#484848" stroke-width="1.10"/>
<line x1="661.3" y1="362.2" x2="661.3" y2="361.1" stroke="#484848" stroke-width="1.10"/>
<line x1="670.3" y1="362.2" x2="670.3" y2="361.1" stroke="#484848" stroke-width="1.10"/>
<line x1="677.9" y1="362.2" x2="677.9" y2="361.1" stroke="#484848" stroke-width="1.10"/>
<line x1="684.6" y1="362.2" x2="684.6" y2="361.1" stroke="#484848" stroke-width="1.10"/>
<line x1="690.4" y1="362.2" x2="690.4" y2="361.1" stroke="#484848" stroke-width="1.10"/>
<line x1="695.6" y1="362.2" x2="695.6" y2="359.1" stroke="#484848" stroke-width="1.10"/>
<line x1="729.9" y1="362.2" x2="729.9" y2="361.1" stroke="#484848" stroke-width="1.10"/>
<line x1="750.0" y1="362.2" x2="750.0" y2="361.1" stroke="#484848" stroke-width="1.10"/>
<line x1="764.2" y1="362.2" x2="764.2" y2="361.1" stroke="#484848" stroke-width="1.10"/>
<line x1="775.3" y1="362.2" x2="775.3" y2="361.1" stroke="#484848" stroke-width="1.10"/>
<line x1="784.3" y1="362.2" x2="784.3" y2="361.1" stroke="#484848" stroke-width="1.10"/>
<line x1="791.9" y1="362.2" x2="791.9" y2="361.1" stroke="#484848" stroke-width="1.10"/>
<line x1="798.6" y1="362.2" x2="798.6" y2="361.1" stroke="#484848" stroke-width="1.10"/>
<line x1="804.4" y1="362.2" x2="804.4" y2="361.1" stroke="#484848" stroke-width="1.10"/>
<line x1="809.6" y1="362.2" x2="809.6" y2="359.1" stroke="#484848" stroke-width="1.10"/>
<line x1="843.9" y1="362.2" x2="843.9" y2="361.1" stroke="#484848" stroke-width="1.10"/>
<line x1="864.0" y1="362.2" x2="864.0" y2="361.1" stroke="#484848" stroke-width="1.10"/>
<line x1="878.2" y1="362.2" x2="878.2" y2="361.1" stroke="#484848" stroke-width="1.10"/>
<line x1="889.3" y1="362.2" x2="889.3" y2="361.1" stroke="#484848" stroke-width="1.10"/>
<line x1="898.3" y1="362.2" x2="898.3" y2="361.1" stroke="#484848" stroke-width="1.10"/>
<line x1="905.9" y1="362.2" x2="905.9" y2="361.1" stroke="#484848" stroke-width="1.10"/>
<line x1="912.6" y1="362.2" x2="912.6" y2="361.1" stroke="#484848" stroke-width="1.10"/>
<line x1="918.4" y1="362.2" x2="918.4" y2="361.1" stroke="#484848" stroke-width="1.10"/>
<line x1="923.6" y1="362.2" x2="923.6" y2="359.1" stroke="#484848" stroke-width="1.10"/>
<line x1="957.9" y1="362.2" x2="957.9" y2="361.1" stroke="#484848" stroke-width="1.10"/>
<line x1="581.6" y1="355.4" x2="583.2" y2="355.4" stroke="#484848" stroke-width="0.80"/>
<line x1="581.6" y1="349.2" x2="583.2" y2="349.2" stroke="#484848" stroke-width="0.80"/>
<line x1="581.6" y1="343.5" x2="583.2" y2="343.5" stroke="#484848" stroke-width="0.80"/>
<line x1="581.6" y1="338.3" x2="583.2" y2="338.3" stroke="#484848" stroke-width="0.80"/>
<line x1="581.6" y1="333.4" x2="586.0" y2="333.4" stroke="#484848" stroke-width="0.80"/>
<line x1="581.6" y1="328.8" x2="583.2" y2="328.8" stroke="#484848" stroke-width="0.80"/>
<line x1="581.6" y1="324.5" x2="583.2" y2="324.5" stroke="#484848" stroke-width="0.80"/>
<line x1="581.6" y1="320.4" x2="583.2" y2="320.4" stroke="#484848" stroke-width="0.80"/>
<line x1="581.6" y1="316.5" x2="583.2" y2="316.5" stroke="#484848" stroke-width="0.80"/>
<line x1="581.6" y1="312.9" x2="586.0" y2="312.9" stroke="#484848" stroke-width="0.80"/>
<line x1="581.6" y1="309.4" x2="583.2" y2="309.4" stroke="#484848" stroke-width="0.80"/>
<line x1="581.6" y1="306.1" x2="583.2" y2="306.1" stroke="#484848" stroke-width="0.80"/>
<line x1="581.6" y1="302.9" x2="583.2" y2="302.9" stroke="#484848" stroke-width="0.80"/>
<line x1="581.6" y1="299.9" x2="583.2" y2="299.9" stroke="#484848" stroke-width="0.80"/>
<line x1="581.6" y1="297.0" x2="586.0" y2="297.0" stroke="#484848" stroke-width="0.80"/>
<line x1="581.6" y1="294.2" x2="583.2" y2="294.2" stroke="#484848" stroke-width="0.80"/>
<line x1="581.6" y1="291.5" x2="583.2" y2="291.5" stroke="#484848" stroke-width="0.80"/>
<line x1="581.6" y1="289.0" x2="583.2" y2="289.0" stroke="#484848" stroke-width="0.80"/>
<line x1="581.6" y1="286.5" x2="583.2" y2="286.5" stroke="#484848" stroke-width="0.80"/>
<line x1="581.6" y1="284.0" x2="586.0" y2="284.0" stroke="#484848" stroke-width="0.80"/>
<line x1="581.6" y1="281.7" x2="583.2" y2="281.7" stroke="#484848" stroke-width="0.80"/>
<line x1="581.6" y1="279.5" x2="583.2" y2="279.5" stroke="#484848" stroke-width="0.80"/>
<line x1="581.6" y1="277.3" x2="583.2" y2="277.3" stroke="#484848" stroke-width="0.80"/>
<line x1="581.6" y1="275.1" x2="583.2" y2="275.1" stroke="#484848" stroke-width="0.80"/>
<line x1="581.6" y1="273.1" x2="586.0" y2="273.1" stroke="#484848" stroke-width="0.80"/>
<line x1="581.6" y1="271.1" x2="583.2" y2="271.1" stroke="#484848" stroke-width="0.80"/>
<line x1="581.6" y1="269.1" x2="583.2" y2="269.1" stroke="#484848" stroke-width="0.80"/>
<line x1="581.6" y1="267.2" x2="583.2" y2="267.2" stroke="#484848" stroke-width="0.80"/>
<line x1="581.6" y1="265.4" x2="583.2" y2="265.4" stroke="#484848" stroke-width="0.80"/>
<line x1="581.6" y1="263.6" x2="586.0" y2="263.6" stroke="#484848" stroke-width="0.80"/>
<line x1="581.6" y1="261.8" x2="583.2" y2="261.8" stroke="#484848" stroke-width="0.80"/>
<line x1="581.6" y1="260.1" x2="583.2" y2="260.1" stroke="#484848" stroke-width="0.80"/>
<text transform="translate(574.70,364.95) rotate(0.05) scale(1.435,1)" text-anchor="end" font-size="7.70" fill="#222" stroke="#222" stroke-width="0.2">100</text>
<text transform="translate(574.70,336.11) rotate(0.05) scale(1.435,1)" text-anchor="end" font-size="7.70" fill="#222" stroke="#222" stroke-width="0.2">150</text>
<text transform="translate(574.70,315.64) rotate(0.05) scale(1.435,1)" text-anchor="end" font-size="7.70" fill="#222" stroke="#222" stroke-width="0.2">200</text>
<text transform="translate(574.70,299.77) rotate(0.05) scale(1.435,1)" text-anchor="end" font-size="7.70" fill="#222" stroke="#222" stroke-width="0.2">250</text>
<text transform="translate(574.70,286.80) rotate(0.05) scale(1.435,1)" text-anchor="end" font-size="7.70" fill="#222" stroke="#222" stroke-width="0.2">300</text>
<text transform="translate(574.70,275.83) rotate(0.05) scale(1.435,1)" text-anchor="end" font-size="7.70" fill="#222" stroke="#222" stroke-width="0.2">350</text>
<text transform="translate(574.70,266.33) rotate(0.05) scale(1.435,1)" text-anchor="end" font-size="7.70" fill="#222" stroke="#222" stroke-width="0.2">400</text>
<text transform="translate(580.60,374.60) rotate(0.05) scale(1.435,1)" text-anchor="middle" font-size="7.70" fill="#222">10<tspan dy="-3.0" font-size="6.78" dx="0.5">3</tspan></text>
<text transform="translate(694.60,374.60) rotate(0.05) scale(1.435,1)" text-anchor="middle" font-size="7.70" fill="#222">10<tspan dy="-3.0" font-size="6.78" dx="0.5">4</tspan></text>
<text transform="translate(808.60,374.60) rotate(0.05) scale(1.435,1)" text-anchor="middle" font-size="7.70" fill="#222">10<tspan dy="-3.0" font-size="6.78" dx="0.5">5</tspan></text>
<text transform="translate(922.60,374.60) rotate(0.05) scale(1.435,1)" text-anchor="middle" font-size="7.70" fill="#222">10<tspan dy="-3.0" font-size="6.78" dx="0.5">6</tspan></text>
<text transform="translate(611.90,276.40) rotate(0.05) scale(1.435,1)" text-anchor="start" font-size="7.70" font-weight="bold" fill="#222" stroke="#222" stroke-width="0.2">Stress ratio R</text>
<ellipse cx="615.4" cy="285.3" rx="3.87" ry="2.34" fill="none" stroke="#e8948c" stroke-width="1.05"/>
<text transform="translate(634.00,288.20) rotate(0.05) scale(1.435,1)" text-anchor="start" font-size="7.70" fill="#222" stroke="#222" stroke-width="0.2">R = 0.6</text>
<rect x="612.6" y="292.8" width="5.60" height="3.44" fill="#72d472" fill-opacity="0.18" stroke="#72d472" stroke-width="0.95"/>
<text transform="translate(634.00,297.45) rotate(0.05) scale(1.435,1)" text-anchor="start" font-size="7.70" fill="#222" stroke="#222" stroke-width="0.2">R = 0.4</text>
<polygon points="611.5,303.8 615.4,300.7 619.3,303.8 615.4,306.9" fill="none" stroke="#5a5ab8" stroke-width="1.05"/>
<text transform="translate(634.00,306.70) rotate(0.05) scale(1.435,1)" text-anchor="start" font-size="7.70" fill="#222" stroke="#222" stroke-width="0.2">R = 0.02</text>
<polygon points="615.40,310.81 616.15,312.34 618.49,312.36 616.61,313.32 617.31,314.86 615.40,313.93 613.49,314.86 614.19,313.32 612.31,312.36 614.65,312.34" fill="#7fe4e6" fill-opacity="0.25" stroke="#7fe4e6" stroke-width="0.95"/>
<text transform="translate(634.00,315.95) rotate(0.05) scale(1.435,1)" text-anchor="start" font-size="7.70" fill="#222" stroke="#222" stroke-width="0.2">R = -0.3</text>
<polygon points="615.40,319.98 616.35,321.12 618.21,321.14 617.30,322.30 618.21,323.46 616.35,323.48 615.40,324.62 614.45,323.48 612.59,323.46 613.50,322.30 612.59,321.14 614.45,321.12" fill="#e882e8" fill-opacity="0.2" stroke="#e882e8" stroke-width="0.95"/>
<text transform="translate(634.00,325.20) rotate(0.05) scale(1.435,1)" text-anchor="start" font-size="7.70" fill="#222" stroke="#222" stroke-width="0.2">R = -0.6</text>
<path d="M611.5,331.6 H619.3 M615.4,328.9 V334.2" fill="none" stroke="#1c1c1c" stroke-width="0.85"/>
<text transform="translate(634.00,334.45) rotate(0.05) scale(1.435,1)" text-anchor="start" font-size="7.70" fill="#222" stroke="#222" stroke-width="0.2">R = -1</text>
<line x1="598.6" y1="341.0" x2="629.7" y2="341.0" stroke="#e58f88" stroke-width="0.65"/>
<text transform="translate(637.20,343.70) rotate(0.05) scale(1.435,1)" text-anchor="start" font-size="7.70" fill="#222" stroke="#222" stroke-width="0.2">All Fit line</text>
<line x1="598.6" y1="350.2" x2="629.7" y2="350.2" stroke="#333" stroke-width="0.60"/>
<text transform="translate(637.20,352.95) rotate(0.05) scale(1.435,1)" text-anchor="start" font-size="7.70" fill="#222" stroke="#222" stroke-width="0.2">R=-1 Fit line</text>
<text transform="translate(717.60,384.80) rotate(0.05) scale(1.435,1)" font-size="7.70" fill="#222">N<tspan dy="2.2" font-size="6.93" font-weight="bold">f</tspan><tspan dy="-2.2" dx="0.6">, Cycles to Failure</tspan></text>
<text transform="translate(544.4,311.5) rotate(-90) scale(1,1.620)" text-anchor="middle" font-size="7.20" fill="#222" stroke="#222" stroke-width="0.22">SWT <tspan font-style="italic" font-size="5.90">σ</tspan><tspan dy="1.9" font-size="5.40"> ar</tspan><tspan dy="-1.9">, MPa</tspan></text>
<line x1="679.0" y1="259.7" x2="930.6" y2="329.0" stroke="#e58f88" stroke-width="0.95"/>
<line x1="708.6" y1="259.7" x2="930.6" y2="326.6" stroke="#333" stroke-width="0.70"/>
<ellipse cx="854.4" cy="308.6" rx="4.30" ry="2.60" fill="none" stroke="#e8948c" stroke-width="1.05"/>
<ellipse cx="890.1" cy="310.4" rx="4.30" ry="2.60" fill="none" stroke="#e8948c" stroke-width="1.05"/>
<rect x="797.5" y="296.2" width="7.00" height="4.30" fill="#72d472" fill-opacity="0.18" stroke="#72d472" stroke-width="0.95"/>
<rect x="823.9" y="302.2" width="7.00" height="4.30" fill="#72d472" fill-opacity="0.18" stroke="#72d472" stroke-width="0.95"/>
<rect x="867.4" y="309.5" width="7.00" height="4.30" fill="#72d472" fill-opacity="0.18" stroke="#72d472" stroke-width="0.95"/>
<rect x="901.9" y="314.9" width="7.00" height="4.30" fill="#72d472" fill-opacity="0.18" stroke="#72d472" stroke-width="0.95"/>
<polygon points="745.1,281.0 749.4,277.5 753.7,281.0 749.4,284.5" fill="none" stroke="#5a5ab8" stroke-width="1.05"/>
<polygon points="779.6,291.5 783.9,288.0 788.2,291.5 783.9,295.0" fill="none" stroke="#5a5ab8" stroke-width="1.05"/>
<polygon points="796.7,296.6 801.0,293.1 805.3,296.6 801.0,300.1" fill="none" stroke="#5a5ab8" stroke-width="1.05"/>
<polygon points="826.7,307.1 831.0,303.6 835.3,307.1 831.0,310.6" fill="none" stroke="#5a5ab8" stroke-width="1.05"/>
<polygon points="867.8,318.8 872.1,315.3 876.4,318.8 872.1,322.3" fill="none" stroke="#5a5ab8" stroke-width="1.05"/>
<polygon points="739.50,272.80 740.44,274.71 743.36,274.73 741.02,275.94 741.89,277.87 739.50,276.70 737.11,277.87 737.98,275.94 735.64,274.73 738.56,274.71" fill="#7fe4e6" fill-opacity="0.25" stroke="#7fe4e6" stroke-width="0.95"/>
<polygon points="789.90,286.60 790.84,288.51 793.76,288.53 791.42,289.74 792.29,291.67 789.90,290.50 787.51,291.67 788.38,289.74 786.04,288.53 788.96,288.51" fill="#7fe4e6" fill-opacity="0.25" stroke="#7fe4e6" stroke-width="0.95"/>
<polygon points="822.90,293.80 823.84,295.71 826.76,295.73 824.42,296.94 825.29,298.87 822.90,297.70 820.51,298.87 821.38,296.94 819.04,295.73 821.96,295.71" fill="#7fe4e6" fill-opacity="0.25" stroke="#7fe4e6" stroke-width="0.95"/>
<polygon points="871.50,312.70 872.44,314.61 875.36,314.63 873.02,315.84 873.89,317.77 871.50,316.60 869.11,317.77 869.98,315.84 867.64,314.63 870.56,314.61" fill="#7fe4e6" fill-opacity="0.25" stroke="#7fe4e6" stroke-width="0.95"/>
<polygon points="671.30,260.20 672.49,261.63 674.82,261.65 673.68,263.10 674.82,264.55 672.49,264.57 671.30,266.00 670.11,264.57 667.78,264.55 668.92,263.10 667.78,261.65 670.11,261.63" fill="#e882e8" fill-opacity="0.2" stroke="#e882e8" stroke-width="0.95"/>
<polygon points="725.10,272.70 726.29,274.13 728.62,274.15 727.48,275.60 728.62,277.05 726.29,277.07 725.10,278.50 723.91,277.07 721.58,277.05 722.72,275.60 721.58,274.15 723.91,274.13" fill="#e882e8" fill-opacity="0.2" stroke="#e882e8" stroke-width="0.95"/>
<polygon points="767.40,281.10 768.59,282.53 770.92,282.55 769.78,284.00 770.92,285.45 768.59,285.47 767.40,286.90 766.21,285.47 763.88,285.45 765.02,284.00 763.88,282.55 766.21,282.53" fill="#e882e8" fill-opacity="0.2" stroke="#e882e8" stroke-width="0.95"/>
<polygon points="814.50,294.60 815.69,296.03 818.02,296.05 816.88,297.50 818.02,298.95 815.69,298.97 814.50,300.40 813.31,298.97 810.98,298.95 812.12,297.50 810.98,296.05 813.31,296.03" fill="#e882e8" fill-opacity="0.2" stroke="#e882e8" stroke-width="0.95"/>
<polygon points="836.40,304.20 837.59,305.63 839.92,305.65 838.78,307.10 839.92,308.55 837.59,308.57 836.40,310.00 835.21,308.57 832.88,308.55 834.02,307.10 832.88,305.65 835.21,305.63" fill="#e882e8" fill-opacity="0.2" stroke="#e882e8" stroke-width="0.95"/>
<polygon points="850.50,315.00 851.69,316.43 854.02,316.45 852.88,317.90 854.02,319.35 851.69,319.37 850.50,320.80 849.31,319.37 846.98,319.35 848.12,317.90 846.98,316.45 849.31,316.43" fill="#e882e8" fill-opacity="0.2" stroke="#e882e8" stroke-width="0.95"/>
<polygon points="893.10,321.00 894.29,322.43 896.62,322.45 895.48,323.90 896.62,325.35 894.29,325.37 893.10,326.80 891.91,325.37 889.58,325.35 890.72,323.90 889.58,322.45 891.91,322.43" fill="#e882e8" fill-opacity="0.2" stroke="#e882e8" stroke-width="0.95"/>
<polygon points="930.60,325.50 931.79,326.93 934.12,326.95 932.98,328.40 934.12,329.85 931.79,329.87 930.60,331.30 929.41,329.87 927.08,329.85 928.22,328.40 927.08,326.95 929.41,326.93" fill="#e882e8" fill-opacity="0.2" stroke="#e882e8" stroke-width="0.95"/>
<path d="M763.1,276.8 H771.7 M767.4,273.8 V279.8" fill="none" stroke="#1c1c1c" stroke-width="0.85"/>
<path d="M810.2,290.0 H818.8 M814.5,287.0 V293.0" fill="none" stroke="#1c1c1c" stroke-width="0.85"/>
<path d="M831.2,299.6 H839.8 M835.5,296.6 V302.6" fill="none" stroke="#1c1c1c" stroke-width="0.85"/>
<path d="M846.2,309.5 H854.8 M850.5,306.5 V312.5" fill="none" stroke="#1c1c1c" stroke-width="0.85"/>
<path d="M888.8,316.4 H897.4 M893.1,313.4 V319.4" fill="none" stroke="#1c1c1c" stroke-width="0.85"/>
<path d="M926.3,320.9 H934.9 M930.6,317.9 V323.9" fill="none" stroke="#1c1c1c" stroke-width="0.85"/>
<text transform="translate(954.00,285.80) rotate(0.05) scale(1.435,1)" text-anchor="end" font-size="7.70" fill="#222" stroke="#222" stroke-width="0.2">eps = 28.7135</text>
<line x1="87.5" y1="402.8" x2="87.5" y2="505.7" stroke="#484848" stroke-width="1.25"/>
<line x1="86.9" y1="505.5" x2="464.3" y2="505.5" stroke="#484848" stroke-width="0.80"/>
<line x1="121.8" y1="505.3" x2="121.8" y2="504.2" stroke="#484848" stroke-width="1.10"/>
<line x1="141.9" y1="505.3" x2="141.9" y2="504.2" stroke="#484848" stroke-width="1.10"/>
<line x1="156.1" y1="505.3" x2="156.1" y2="504.2" stroke="#484848" stroke-width="1.10"/>
<line x1="167.2" y1="505.3" x2="167.2" y2="504.2" stroke="#484848" stroke-width="1.10"/>
<line x1="176.2" y1="505.3" x2="176.2" y2="504.2" stroke="#484848" stroke-width="1.10"/>
<line x1="183.8" y1="505.3" x2="183.8" y2="504.2" stroke="#484848" stroke-width="1.10"/>
<line x1="190.5" y1="505.3" x2="190.5" y2="504.2" stroke="#484848" stroke-width="1.10"/>
<line x1="196.3" y1="505.3" x2="196.3" y2="504.2" stroke="#484848" stroke-width="1.10"/>
<line x1="201.5" y1="505.3" x2="201.5" y2="502.2" stroke="#484848" stroke-width="1.10"/>
<line x1="235.8" y1="505.3" x2="235.8" y2="504.2" stroke="#484848" stroke-width="1.10"/>
<line x1="255.9" y1="505.3" x2="255.9" y2="504.2" stroke="#484848" stroke-width="1.10"/>
<line x1="270.1" y1="505.3" x2="270.1" y2="504.2" stroke="#484848" stroke-width="1.10"/>
<line x1="281.2" y1="505.3" x2="281.2" y2="504.2" stroke="#484848" stroke-width="1.10"/>
<line x1="290.2" y1="505.3" x2="290.2" y2="504.2" stroke="#484848" stroke-width="1.10"/>
<line x1="297.8" y1="505.3" x2="297.8" y2="504.2" stroke="#484848" stroke-width="1.10"/>
<line x1="304.5" y1="505.3" x2="304.5" y2="504.2" stroke="#484848" stroke-width="1.10"/>
<line x1="310.3" y1="505.3" x2="310.3" y2="504.2" stroke="#484848" stroke-width="1.10"/>
<line x1="315.5" y1="505.3" x2="315.5" y2="502.2" stroke="#484848" stroke-width="1.10"/>
<line x1="349.8" y1="505.3" x2="349.8" y2="504.2" stroke="#484848" stroke-width="1.10"/>
<line x1="369.9" y1="505.3" x2="369.9" y2="504.2" stroke="#484848" stroke-width="1.10"/>
<line x1="384.1" y1="505.3" x2="384.1" y2="504.2" stroke="#484848" stroke-width="1.10"/>
<line x1="395.2" y1="505.3" x2="395.2" y2="504.2" stroke="#484848" stroke-width="1.10"/>
<line x1="404.2" y1="505.3" x2="404.2" y2="504.2" stroke="#484848" stroke-width="1.10"/>
<line x1="411.8" y1="505.3" x2="411.8" y2="504.2" stroke="#484848" stroke-width="1.10"/>
<line x1="418.5" y1="505.3" x2="418.5" y2="504.2" stroke="#484848" stroke-width="1.10"/>
<line x1="424.3" y1="505.3" x2="424.3" y2="504.2" stroke="#484848" stroke-width="1.10"/>
<line x1="429.5" y1="505.3" x2="429.5" y2="502.2" stroke="#484848" stroke-width="1.10"/>
<line x1="463.8" y1="505.3" x2="463.8" y2="504.2" stroke="#484848" stroke-width="1.10"/>
<line x1="87.5" y1="498.5" x2="89.1" y2="498.5" stroke="#484848" stroke-width="0.80"/>
<line x1="87.5" y1="492.3" x2="89.1" y2="492.3" stroke="#484848" stroke-width="0.80"/>
<line x1="87.5" y1="486.6" x2="89.1" y2="486.6" stroke="#484848" stroke-width="0.80"/>
<line x1="87.5" y1="481.4" x2="89.1" y2="481.4" stroke="#484848" stroke-width="0.80"/>
<line x1="87.5" y1="476.5" x2="91.9" y2="476.5" stroke="#484848" stroke-width="0.80"/>
<line x1="87.5" y1="471.9" x2="89.1" y2="471.9" stroke="#484848" stroke-width="0.80"/>
<line x1="87.5" y1="467.6" x2="89.1" y2="467.6" stroke="#484848" stroke-width="0.80"/>
<line x1="87.5" y1="463.5" x2="89.1" y2="463.5" stroke="#484848" stroke-width="0.80"/>
<line x1="87.5" y1="459.6" x2="89.1" y2="459.6" stroke="#484848" stroke-width="0.80"/>
<line x1="87.5" y1="456.0" x2="91.9" y2="456.0" stroke="#484848" stroke-width="0.80"/>
<line x1="87.5" y1="452.5" x2="89.1" y2="452.5" stroke="#484848" stroke-width="0.80"/>
<line x1="87.5" y1="449.2" x2="89.1" y2="449.2" stroke="#484848" stroke-width="0.80"/>
<line x1="87.5" y1="446.0" x2="89.1" y2="446.0" stroke="#484848" stroke-width="0.80"/>
<line x1="87.5" y1="443.0" x2="89.1" y2="443.0" stroke="#484848" stroke-width="0.80"/>
<line x1="87.5" y1="440.1" x2="91.9" y2="440.1" stroke="#484848" stroke-width="0.80"/>
<line x1="87.5" y1="437.3" x2="89.1" y2="437.3" stroke="#484848" stroke-width="0.80"/>
<line x1="87.5" y1="434.6" x2="89.1" y2="434.6" stroke="#484848" stroke-width="0.80"/>
<line x1="87.5" y1="432.1" x2="89.1" y2="432.1" stroke="#484848" stroke-width="0.80"/>
<line x1="87.5" y1="429.6" x2="89.1" y2="429.6" stroke="#484848" stroke-width="0.80"/>
<line x1="87.5" y1="427.1" x2="91.9" y2="427.1" stroke="#484848" stroke-width="0.80"/>
<line x1="87.5" y1="424.8" x2="89.1" y2="424.8" stroke="#484848" stroke-width="0.80"/>
<line x1="87.5" y1="422.6" x2="89.1" y2="422.6" stroke="#484848" stroke-width="0.80"/>
<line x1="87.5" y1="420.4" x2="89.1" y2="420.4" stroke="#484848" stroke-width="0.80"/>
<line x1="87.5" y1="418.2" x2="89.1" y2="418.2" stroke="#484848" stroke-width="0.80"/>
<line x1="87.5" y1="416.2" x2="91.9" y2="416.2" stroke="#484848" stroke-width="0.80"/>
<line x1="87.5" y1="414.2" x2="89.1" y2="414.2" stroke="#484848" stroke-width="0.80"/>
<line x1="87.5" y1="412.2" x2="89.1" y2="412.2" stroke="#484848" stroke-width="0.80"/>
<line x1="87.5" y1="410.3" x2="89.1" y2="410.3" stroke="#484848" stroke-width="0.80"/>
<line x1="87.5" y1="408.5" x2="89.1" y2="408.5" stroke="#484848" stroke-width="0.80"/>
<line x1="87.5" y1="406.7" x2="91.9" y2="406.7" stroke="#484848" stroke-width="0.80"/>
<line x1="87.5" y1="404.9" x2="89.1" y2="404.9" stroke="#484848" stroke-width="0.80"/>
<line x1="87.5" y1="403.2" x2="89.1" y2="403.2" stroke="#484848" stroke-width="0.80"/>
<text transform="translate(80.60,508.05) rotate(0.05) scale(1.435,1)" text-anchor="end" font-size="7.70" fill="#222" stroke="#222" stroke-width="0.2">100</text>
<text transform="translate(80.60,479.21) rotate(0.05) scale(1.435,1)" text-anchor="end" font-size="7.70" fill="#222" stroke="#222" stroke-width="0.2">150</text>
<text transform="translate(80.60,458.74) rotate(0.05) scale(1.435,1)" text-anchor="end" font-size="7.70" fill="#222" stroke="#222" stroke-width="0.2">200</text>
<text transform="translate(80.60,442.87) rotate(0.05) scale(1.435,1)" text-anchor="end" font-size="7.70" fill="#222" stroke="#222" stroke-width="0.2">250</text>
<text transform="translate(80.60,429.90) rotate(0.05) scale(1.435,1)" text-anchor="end" font-size="7.70" fill="#222" stroke="#222" stroke-width="0.2">300</text>
<text transform="translate(80.60,418.93) rotate(0.05) scale(1.435,1)" text-anchor="end" font-size="7.70" fill="#222" stroke="#222" stroke-width="0.2">350</text>
<text transform="translate(80.60,409.43) rotate(0.05) scale(1.435,1)" text-anchor="end" font-size="7.70" fill="#222" stroke="#222" stroke-width="0.2">400</text>
<text transform="translate(86.50,517.70) rotate(0.05) scale(1.435,1)" text-anchor="middle" font-size="7.70" fill="#222">10<tspan dy="-3.0" font-size="6.78" dx="0.5">3</tspan></text>
<text transform="translate(200.50,517.70) rotate(0.05) scale(1.435,1)" text-anchor="middle" font-size="7.70" fill="#222">10<tspan dy="-3.0" font-size="6.78" dx="0.5">4</tspan></text>
<text transform="translate(314.50,517.70) rotate(0.05) scale(1.435,1)" text-anchor="middle" font-size="7.70" fill="#222">10<tspan dy="-3.0" font-size="6.78" dx="0.5">5</tspan></text>
<text transform="translate(428.50,517.70) rotate(0.05) scale(1.435,1)" text-anchor="middle" font-size="7.70" fill="#222">10<tspan dy="-3.0" font-size="6.78" dx="0.5">6</tspan></text>
<text transform="translate(118.60,419.50) rotate(0.05) scale(1.435,1)" text-anchor="start" font-size="7.70" font-weight="bold" fill="#222" stroke="#222" stroke-width="0.2">Stress ratio R</text>
<ellipse cx="120.7" cy="428.4" rx="3.87" ry="2.34" fill="none" stroke="#e8948c" stroke-width="1.05"/>
<text transform="translate(139.90,431.30) rotate(0.05) scale(1.435,1)" text-anchor="start" font-size="7.70" fill="#222" stroke="#222" stroke-width="0.2">R = 0.6</text>
<rect x="117.9" y="435.9" width="5.60" height="3.44" fill="#72d472" fill-opacity="0.18" stroke="#72d472" stroke-width="0.95"/>
<text transform="translate(139.90,440.55) rotate(0.05) scale(1.435,1)" text-anchor="start" font-size="7.70" fill="#222" stroke="#222" stroke-width="0.2">R = 0.4</text>
<polygon points="116.8,446.9 120.7,443.8 124.6,446.9 120.7,450.1" fill="none" stroke="#5a5ab8" stroke-width="1.05"/>
<text transform="translate(139.90,449.80) rotate(0.05) scale(1.435,1)" text-anchor="start" font-size="7.70" fill="#222" stroke="#222" stroke-width="0.2">R = 0.02</text>
<polygon points="120.70,453.91 121.45,455.44 123.79,455.46 121.91,456.42 122.61,457.96 120.70,457.03 118.79,457.96 119.49,456.42 117.61,455.46 119.95,455.44" fill="#7fe4e6" fill-opacity="0.25" stroke="#7fe4e6" stroke-width="0.95"/>
<text transform="translate(139.90,459.05) rotate(0.05) scale(1.435,1)" text-anchor="start" font-size="7.70" fill="#222" stroke="#222" stroke-width="0.2">R = -0.3</text>
<polygon points="120.70,463.08 121.65,464.22 123.51,464.24 122.60,465.40 123.51,466.56 121.65,466.58 120.70,467.72 119.75,466.58 117.89,466.56 118.80,465.40 117.89,464.24 119.75,464.22" fill="#e882e8" fill-opacity="0.2" stroke="#e882e8" stroke-width="0.95"/>
<text transform="translate(139.90,468.30) rotate(0.05) scale(1.435,1)" text-anchor="start" font-size="7.70" fill="#222" stroke="#222" stroke-width="0.2">R = -0.6</text>
<path d="M116.8,474.7 H124.6 M120.7,472.0 V477.4" fill="none" stroke="#1c1c1c" stroke-width="0.85"/>
<text transform="translate(139.90,477.55) rotate(0.05) scale(1.435,1)" text-anchor="start" font-size="7.70" fill="#222" stroke="#222" stroke-width="0.2">R = -1</text>
<line x1="104.7" y1="484.1" x2="135.9" y2="484.1" stroke="#e58f88" stroke-width="0.65"/>
<text transform="translate(143.00,486.80) rotate(0.05) scale(1.435,1)" text-anchor="start" font-size="7.70" fill="#222" stroke="#222" stroke-width="0.2">All Fit line</text>
<line x1="104.7" y1="493.4" x2="135.9" y2="493.4" stroke="#333" stroke-width="0.60"/>
<text transform="translate(143.00,496.05) rotate(0.05) scale(1.435,1)" text-anchor="start" font-size="7.70" fill="#222" stroke="#222" stroke-width="0.2">R=-1 Fit line</text>
<text transform="translate(223.40,527.90) rotate(0.05) scale(1.435,1)" font-size="7.70" fill="#222">N<tspan dy="2.2" font-size="6.93" font-weight="bold">f</tspan><tspan dy="-2.2" dx="0.6">, Cycles to Failure</tspan></text>
<text transform="translate(51.0,455.0) rotate(-90) scale(1,1.620)" text-anchor="middle" font-size="7.20" fill="#222" stroke="#222" stroke-width="0.22">Morrow <tspan font-style="italic" font-size="5.90">σ</tspan><tspan dy="1.9" font-size="5.40"> ar</tspan><tspan dy="-1.9">, MPa</tspan></text>
<line x1="222.5" y1="402.9" x2="419.0" y2="504.9" stroke="#e58f88" stroke-width="0.95"/>
<line x1="213.5" y1="402.9" x2="437.0" y2="470.4" stroke="#333" stroke-width="0.70"/>
<ellipse cx="359.9" cy="501.6" rx="4.30" ry="2.60" fill="none" stroke="#e8948c" stroke-width="1.05"/>
<ellipse cx="395.6" cy="503.4" rx="4.30" ry="2.60" fill="none" stroke="#e8948c" stroke-width="1.05"/>
<rect x="303.6" y="475.5" width="7.00" height="4.30" fill="#72d472" fill-opacity="0.18" stroke="#72d472" stroke-width="0.95"/>
<rect x="329.4" y="481.8" width="7.00" height="4.30" fill="#72d472" fill-opacity="0.18" stroke="#72d472" stroke-width="0.95"/>
<rect x="373.5" y="489.9" width="7.00" height="4.30" fill="#72d472" fill-opacity="0.18" stroke="#72d472" stroke-width="0.95"/>
<rect x="408.0" y="495.9" width="7.00" height="4.30" fill="#72d472" fill-opacity="0.18" stroke="#72d472" stroke-width="0.95"/>
<polygon points="250.6,444.6 254.9,441.1 259.2,444.6 254.9,448.1" fill="none" stroke="#5a5ab8" stroke-width="1.05"/>
<polygon points="285.1,455.4 289.4,451.9 293.7,455.4 289.4,458.9" fill="none" stroke="#5a5ab8" stroke-width="1.05"/>
<polygon points="302.2,460.8 306.5,457.3 310.8,460.8 306.5,464.3" fill="none" stroke="#5a5ab8" stroke-width="1.05"/>
<polygon points="332.2,472.5 336.5,469.0 340.8,472.5 336.5,476.0" fill="none" stroke="#5a5ab8" stroke-width="1.05"/>
<polygon points="373.3,485.4 377.6,481.9 381.9,485.4 377.6,488.9" fill="none" stroke="#5a5ab8" stroke-width="1.05"/>
<polygon points="244.10,428.60 245.04,430.51 247.96,430.53 245.62,431.74 246.49,433.67 244.10,432.50 241.71,433.67 242.58,431.74 240.24,430.53 243.16,430.51" fill="#7fe4e6" fill-opacity="0.25" stroke="#7fe4e6" stroke-width="0.95"/>
<polygon points="295.40,442.10 296.34,444.01 299.26,444.03 296.92,445.24 297.79,447.17 295.40,446.00 293.01,447.17 293.88,445.24 291.54,444.03 294.46,444.01" fill="#7fe4e6" fill-opacity="0.25" stroke="#7fe4e6" stroke-width="0.95"/>
<polygon points="328.40,450.20 329.34,452.11 332.26,452.13 329.92,453.34 330.79,455.27 328.40,454.10 326.01,455.27 326.88,453.34 324.54,452.13 327.46,452.11" fill="#7fe4e6" fill-opacity="0.25" stroke="#7fe4e6" stroke-width="0.95"/>
<polygon points="377.00,468.80 377.94,470.71 380.86,470.73 378.52,471.94 379.39,473.87 377.00,472.70 374.61,473.87 375.48,471.94 373.14,470.73 376.06,470.71" fill="#7fe4e6" fill-opacity="0.25" stroke="#7fe4e6" stroke-width="0.95"/>
<polygon points="177.70,409.70 178.89,411.13 181.22,411.15 180.08,412.60 181.22,414.05 178.89,414.07 177.70,415.50 176.51,414.07 174.18,414.05 175.32,412.60 174.18,411.15 176.51,411.13" fill="#e882e8" fill-opacity="0.2" stroke="#e882e8" stroke-width="0.95"/>
<polygon points="230.00,423.10 231.19,424.53 233.52,424.55 232.38,426.00 233.52,427.45 231.19,427.47 230.00,428.90 228.81,427.47 226.48,427.45 227.62,426.00 226.48,424.55 228.81,424.53" fill="#e882e8" fill-opacity="0.2" stroke="#e882e8" stroke-width="0.95"/>
<polygon points="272.90,431.50 274.09,432.93 276.42,432.95 275.28,434.40 276.42,435.85 274.09,435.87 272.90,437.30 271.71,435.87 269.38,435.85 270.52,434.40 269.38,432.95 271.71,432.93" fill="#e882e8" fill-opacity="0.2" stroke="#e882e8" stroke-width="0.95"/>
<polygon points="320.00,444.70 321.19,446.13 323.52,446.15 322.38,447.60 323.52,449.05 321.19,449.07 320.00,450.50 318.81,449.07 316.48,449.05 317.62,447.60 316.48,446.15 318.81,446.13" fill="#e882e8" fill-opacity="0.2" stroke="#e882e8" stroke-width="0.95"/>
<polygon points="341.00,454.60 342.19,456.03 344.52,456.05 343.38,457.50 344.52,458.95 342.19,458.97 341.00,460.40 339.81,458.97 337.48,458.95 338.62,457.50 337.48,456.05 339.81,456.03" fill="#e882e8" fill-opacity="0.2" stroke="#e882e8" stroke-width="0.95"/>
<polygon points="356.00,466.00 357.19,467.43 359.52,467.45 358.38,468.90 359.52,470.35 357.19,470.37 356.00,471.80 354.81,470.37 352.48,470.35 353.62,468.90 352.48,467.45 354.81,467.43" fill="#e882e8" fill-opacity="0.2" stroke="#e882e8" stroke-width="0.95"/>
<polygon points="398.60,472.00 399.79,473.43 402.12,473.45 400.98,474.90 402.12,476.35 399.79,476.37 398.60,477.80 397.41,476.37 395.08,476.35 396.22,474.90 395.08,473.45 397.41,473.43" fill="#e882e8" fill-opacity="0.2" stroke="#e882e8" stroke-width="0.95"/>
<polygon points="436.40,476.20 437.59,477.63 439.92,477.65 438.78,479.10 439.92,480.55 437.59,480.57 436.40,482.00 435.21,480.57 432.88,480.55 434.02,479.10 432.88,477.65 435.21,477.63" fill="#e882e8" fill-opacity="0.2" stroke="#e882e8" stroke-width="0.95"/>
<path d="M268.6,420.0 H277.2 M272.9,417.0 V423.0" fill="none" stroke="#1c1c1c" stroke-width="0.85"/>
<path d="M315.7,432.9 H324.3 M320.0,429.9 V435.9" fill="none" stroke="#1c1c1c" stroke-width="0.85"/>
<path d="M336.7,442.5 H345.3 M341.0,439.5 V445.5" fill="none" stroke="#1c1c1c" stroke-width="0.85"/>
<path d="M351.7,453.3 H360.3 M356.0,450.3 V456.3" fill="none" stroke="#1c1c1c" stroke-width="0.85"/>
<path d="M393.7,459.3 H402.3 M398.0,456.3 V462.3" fill="none" stroke="#1c1c1c" stroke-width="0.85"/>
<path d="M432.7,463.5 H441.3 M437.0,460.5 V466.5" fill="none" stroke="#1c1c1c" stroke-width="0.85"/>
<text transform="translate(459.50,420.30) rotate(0.05) scale(1.435,1)" text-anchor="end" font-size="7.70" fill="#222" stroke="#222" stroke-width="0.2"><tspan font-style="italic" font-size="6.4">σ</tspan> '<tspan dy="3" font-size="7.4" font-weight="bold">f</tspan><tspan dy="-3"> = 3543.46 MPa</tspan></text>
<text transform="translate(459.50,431.10) rotate(0.05) scale(1.435,1)" text-anchor="end" font-size="7.70" fill="#222" stroke="#222" stroke-width="0.2">eps = 500.158</text>
<line x1="581.6" y1="402.8" x2="581.6" y2="505.7" stroke="#484848" stroke-width="1.25"/>
<line x1="581.0" y1="505.5" x2="958.4" y2="505.5" stroke="#484848" stroke-width="0.80"/>
<line x1="615.9" y1="505.3" x2="615.9" y2="504.2" stroke="#484848" stroke-width="1.10"/>
<line x1="636.0" y1="505.3" x2="636.0" y2="504.2" stroke="#484848" stroke-width="1.10"/>
<line x1="650.2" y1="505.3" x2="650.2" y2="504.2" stroke="#484848" stroke-width="1.10"/>
<line x1="661.3" y1="505.3" x2="661.3" y2="504.2" stroke="#484848" stroke-width="1.10"/>
<line x1="670.3" y1="505.3" x2="670.3" y2="504.2" stroke="#484848" stroke-width="1.10"/>
<line x1="677.9" y1="505.3" x2="677.9" y2="504.2" stroke="#484848" stroke-width="1.10"/>
<line x1="684.6" y1="505.3" x2="684.6" y2="504.2" stroke="#484848" stroke-width="1.10"/>
<line x1="690.4" y1="505.3" x2="690.4" y2="504.2" stroke="#484848" stroke-width="1.10"/>
<line x1="695.6" y1="505.3" x2="695.6" y2="502.2" stroke="#484848" stroke-width="1.10"/>
<line x1="729.9" y1="505.3" x2="729.9" y2="504.2" stroke="#484848" stroke-width="1.10"/>
<line x1="750.0" y1="505.3" x2="750.0" y2="504.2" stroke="#484848" stroke-width="1.10"/>
<line x1="764.2" y1="505.3" x2="764.2" y2="504.2" stroke="#484848" stroke-width="1.10"/>
<line x1="775.3" y1="505.3" x2="775.3" y2="504.2" stroke="#484848" stroke-width="1.10"/>
<line x1="784.3" y1="505.3" x2="784.3" y2="504.2" stroke="#484848" stroke-width="1.10"/>
<line x1="791.9" y1="505.3" x2="791.9" y2="504.2" stroke="#484848" stroke-width="1.10"/>
<line x1="798.6" y1="505.3" x2="798.6" y2="504.2" stroke="#484848" stroke-width="1.10"/>
<line x1="804.4" y1="505.3" x2="804.4" y2="504.2" stroke="#484848" stroke-width="1.10"/>
<line x1="809.6" y1="505.3" x2="809.6" y2="502.2" stroke="#484848" stroke-width="1.10"/>
<line x1="843.9" y1="505.3" x2="843.9" y2="504.2" stroke="#484848" stroke-width="1.10"/>
<line x1="864.0" y1="505.3" x2="864.0" y2="504.2" stroke="#484848" stroke-width="1.10"/>
<line x1="878.2" y1="505.3" x2="878.2" y2="504.2" stroke="#484848" stroke-width="1.10"/>
<line x1="889.3" y1="505.3" x2="889.3" y2="504.2" stroke="#484848" stroke-width="1.10"/>
<line x1="898.3" y1="505.3" x2="898.3" y2="504.2" stroke="#484848" stroke-width="1.10"/>
<line x1="905.9" y1="505.3" x2="905.9" y2="504.2" stroke="#484848" stroke-width="1.10"/>
<line x1="912.6" y1="505.3" x2="912.6" y2="504.2" stroke="#484848" stroke-width="1.10"/>
<line x1="918.4" y1="505.3" x2="918.4" y2="504.2" stroke="#484848" stroke-width="1.10"/>
<line x1="923.6" y1="505.3" x2="923.6" y2="502.2" stroke="#484848" stroke-width="1.10"/>
<line x1="957.9" y1="505.3" x2="957.9" y2="504.2" stroke="#484848" stroke-width="1.10"/>
<line x1="581.6" y1="498.5" x2="583.2" y2="498.5" stroke="#484848" stroke-width="0.80"/>
<line x1="581.6" y1="492.3" x2="583.2" y2="492.3" stroke="#484848" stroke-width="0.80"/>
<line x1="581.6" y1="486.6" x2="583.2" y2="486.6" stroke="#484848" stroke-width="0.80"/>
<line x1="581.6" y1="481.4" x2="583.2" y2="481.4" stroke="#484848" stroke-width="0.80"/>
<line x1="581.6" y1="476.5" x2="586.0" y2="476.5" stroke="#484848" stroke-width="0.80"/>
<line x1="581.6" y1="471.9" x2="583.2" y2="471.9" stroke="#484848" stroke-width="0.80"/>
<line x1="581.6" y1="467.6" x2="583.2" y2="467.6" stroke="#484848" stroke-width="0.80"/>
<line x1="581.6" y1="463.5" x2="583.2" y2="463.5" stroke="#484848" stroke-width="0.80"/>
<line x1="581.6" y1="459.6" x2="583.2" y2="459.6" stroke="#484848" stroke-width="0.80"/>
<line x1="581.6" y1="456.0" x2="586.0" y2="456.0" stroke="#484848" stroke-width="0.80"/>
<line x1="581.6" y1="452.5" x2="583.2" y2="452.5" stroke="#484848" stroke-width="0.80"/>
<line x1="581.6" y1="449.2" x2="583.2" y2="449.2" stroke="#484848" stroke-width="0.80"/>
<line x1="581.6" y1="446.0" x2="583.2" y2="446.0" stroke="#484848" stroke-width="0.80"/>
<line x1="581.6" y1="443.0" x2="583.2" y2="443.0" stroke="#484848" stroke-width="0.80"/>
<line x1="581.6" y1="440.1" x2="586.0" y2="440.1" stroke="#484848" stroke-width="0.80"/>
<line x1="581.6" y1="437.3" x2="583.2" y2="437.3" stroke="#484848" stroke-width="0.80"/>
<line x1="581.6" y1="434.6" x2="583.2" y2="434.6" stroke="#484848" stroke-width="0.80"/>
<line x1="581.6" y1="432.1" x2="583.2" y2="432.1" stroke="#484848" stroke-width="0.80"/>
<line x1="581.6" y1="429.6" x2="583.2" y2="429.6" stroke="#484848" stroke-width="0.80"/>
<line x1="581.6" y1="427.1" x2="586.0" y2="427.1" stroke="#484848" stroke-width="0.80"/>
<line x1="581.6" y1="424.8" x2="583.2" y2="424.8" stroke="#484848" stroke-width="0.80"/>
<line x1="581.6" y1="422.6" x2="583.2" y2="422.6" stroke="#484848" stroke-width="0.80"/>
<line x1="581.6" y1="420.4" x2="583.2" y2="420.4" stroke="#484848" stroke-width="0.80"/>
<line x1="581.6" y1="418.2" x2="583.2" y2="418.2" stroke="#484848" stroke-width="0.80"/>
<line x1="581.6" y1="416.2" x2="586.0" y2="416.2" stroke="#484848" stroke-width="0.80"/>
<line x1="581.6" y1="414.2" x2="583.2" y2="414.2" stroke="#484848" stroke-width="0.80"/>
<line x1="581.6" y1="412.2" x2="583.2" y2="412.2" stroke="#484848" stroke-width="0.80"/>
<line x1="581.6" y1="410.3" x2="583.2" y2="410.3" stroke="#484848" stroke-width="0.80"/>
<line x1="581.6" y1="408.5" x2="583.2" y2="408.5" stroke="#484848" stroke-width="0.80"/>
<line x1="581.6" y1="406.7" x2="586.0" y2="406.7" stroke="#484848" stroke-width="0.80"/>
<line x1="581.6" y1="404.9" x2="583.2" y2="404.9" stroke="#484848" stroke-width="0.80"/>
<line x1="581.6" y1="403.2" x2="583.2" y2="403.2" stroke="#484848" stroke-width="0.80"/>
<text transform="translate(574.70,508.05) rotate(0.05) scale(1.435,1)" text-anchor="end" font-size="7.70" fill="#222" stroke="#222" stroke-width="0.2">100</text>
<text transform="translate(574.70,479.21) rotate(0.05) scale(1.435,1)" text-anchor="end" font-size="7.70" fill="#222" stroke="#222" stroke-width="0.2">150</text>
<text transform="translate(574.70,458.74) rotate(0.05) scale(1.435,1)" text-anchor="end" font-size="7.70" fill="#222" stroke="#222" stroke-width="0.2">200</text>
<text transform="translate(574.70,442.87) rotate(0.05) scale(1.435,1)" text-anchor="end" font-size="7.70" fill="#222" stroke="#222" stroke-width="0.2">250</text>
<text transform="translate(574.70,429.90) rotate(0.05) scale(1.435,1)" text-anchor="end" font-size="7.70" fill="#222" stroke="#222" stroke-width="0.2">300</text>
<text transform="translate(574.70,418.93) rotate(0.05) scale(1.435,1)" text-anchor="end" font-size="7.70" fill="#222" stroke="#222" stroke-width="0.2">350</text>
<text transform="translate(574.70,409.43) rotate(0.05) scale(1.435,1)" text-anchor="end" font-size="7.70" fill="#222" stroke="#222" stroke-width="0.2">400</text>
<text transform="translate(580.60,517.70) rotate(0.05) scale(1.435,1)" text-anchor="middle" font-size="7.70" fill="#222">10<tspan dy="-3.0" font-size="6.78" dx="0.5">3</tspan></text>
<text transform="translate(694.60,517.70) rotate(0.05) scale(1.435,1)" text-anchor="middle" font-size="7.70" fill="#222">10<tspan dy="-3.0" font-size="6.78" dx="0.5">4</tspan></text>
<text transform="translate(808.60,517.70) rotate(0.05) scale(1.435,1)" text-anchor="middle" font-size="7.70" fill="#222">10<tspan dy="-3.0" font-size="6.78" dx="0.5">5</tspan></text>
<text transform="translate(922.60,517.70) rotate(0.05) scale(1.435,1)" text-anchor="middle" font-size="7.70" fill="#222">10<tspan dy="-3.0" font-size="6.78" dx="0.5">6</tspan></text>
<text transform="translate(611.90,419.50) rotate(0.05) scale(1.435,1)" text-anchor="start" font-size="7.70" font-weight="bold" fill="#222" stroke="#222" stroke-width="0.2">Stress ratio R</text>
<ellipse cx="615.4" cy="428.4" rx="3.87" ry="2.34" fill="none" stroke="#e8948c" stroke-width="1.05"/>
<text transform="translate(634.00,431.30) rotate(0.05) scale(1.435,1)" text-anchor="start" font-size="7.70" fill="#222" stroke="#222" stroke-width="0.2">R = 0.6</text>
<rect x="612.6" y="435.9" width="5.60" height="3.44" fill="#72d472" fill-opacity="0.18" stroke="#72d472" stroke-width="0.95"/>
<text transform="translate(634.00,440.55) rotate(0.05) scale(1.435,1)" text-anchor="start" font-size="7.70" fill="#222" stroke="#222" stroke-width="0.2">R = 0.4</text>
<polygon points="611.5,446.9 615.4,443.8 619.3,446.9 615.4,450.1" fill="none" stroke="#5a5ab8" stroke-width="1.05"/>
<text transform="translate(634.00,449.80) rotate(0.05) scale(1.435,1)" text-anchor="start" font-size="7.70" fill="#222" stroke="#222" stroke-width="0.2">R = 0.02</text>
<polygon points="615.40,453.91 616.15,455.44 618.49,455.46 616.61,456.42 617.31,457.96 615.40,457.03 613.49,457.96 614.19,456.42 612.31,455.46 614.65,455.44" fill="#7fe4e6" fill-opacity="0.25" stroke="#7fe4e6" stroke-width="0.95"/>
<text transform="translate(634.00,459.05) rotate(0.05) scale(1.435,1)" text-anchor="start" font-size="7.70" fill="#222" stroke="#222" stroke-width="0.2">R = -0.3</text>
<polygon points="615.40,463.08 616.35,464.22 618.21,464.24 617.30,465.40 618.21,466.56 616.35,466.58 615.40,467.72 614.45,466.58 612.59,466.56 613.50,465.40 612.59,464.24 614.45,464.22" fill="#e882e8" fill-opacity="0.2" stroke="#e882e8" stroke-width="0.95"/>
<text transform="translate(634.00,468.30) rotate(0.05) scale(1.435,1)" text-anchor="start" font-size="7.70" fill="#222" stroke="#222" stroke-width="0.2">R = -0.6</text>
<path d="M611.5,474.7 H619.3 M615.4,472.0 V477.4" fill="none" stroke="#1c1c1c" stroke-width="0.85"/>
<text transform="translate(634.00,477.55) rotate(0.05) scale(1.435,1)" text-anchor="start" font-size="7.70" fill="#222" stroke="#222" stroke-width="0.2">R = -1</text>
<line x1="598.6" y1="484.1" x2="629.7" y2="484.1" stroke="#e58f88" stroke-width="0.65"/>
<text transform="translate(637.20,486.80) rotate(0.05) scale(1.435,1)" text-anchor="start" font-size="7.70" fill="#222" stroke="#222" stroke-width="0.2">All Fit line</text>
<line x1="598.6" y1="493.4" x2="629.7" y2="493.4" stroke="#333" stroke-width="0.60"/>
<text transform="translate(637.20,496.05) rotate(0.05) scale(1.435,1)" text-anchor="start" font-size="7.70" fill="#222" stroke="#222" stroke-width="0.2">R=-1 Fit line</text>
<text transform="translate(717.60,527.90) rotate(0.05) scale(1.435,1)" font-size="7.70" fill="#222">N<tspan dy="2.2" font-size="6.93" font-weight="bold">f</tspan><tspan dy="-2.2" dx="0.6">, Cycles to Failure</tspan></text>
<text transform="translate(544.4,455.1) rotate(-90) scale(1,1.620)" text-anchor="middle" font-size="7.20" fill="#222" stroke="#222" stroke-width="0.22">Walker <tspan font-style="italic" font-size="5.90">σ</tspan><tspan dy="1.9" font-size="5.40"> ar</tspan><tspan dy="-1.9">, MPa</tspan></text>
<line x1="679.0" y1="402.8" x2="930.6" y2="472.1" stroke="#e58f88" stroke-width="0.95"/>
<line x1="708.6" y1="402.8" x2="930.6" y2="469.7" stroke="#333" stroke-width="0.70"/>
<ellipse cx="854.4" cy="451.7" rx="4.30" ry="2.60" fill="none" stroke="#e8948c" stroke-width="1.05"/>
<ellipse cx="890.1" cy="453.5" rx="4.30" ry="2.60" fill="none" stroke="#e8948c" stroke-width="1.05"/>
<rect x="797.5" y="439.4" width="7.00" height="4.30" fill="#72d472" fill-opacity="0.18" stroke="#72d472" stroke-width="0.95"/>
<rect x="823.9" y="445.4" width="7.00" height="4.30" fill="#72d472" fill-opacity="0.18" stroke="#72d472" stroke-width="0.95"/>
<rect x="867.4" y="452.6" width="7.00" height="4.30" fill="#72d472" fill-opacity="0.18" stroke="#72d472" stroke-width="0.95"/>
<rect x="901.9" y="458.0" width="7.00" height="4.30" fill="#72d472" fill-opacity="0.18" stroke="#72d472" stroke-width="0.95"/>
<polygon points="745.1,424.1 749.4,420.6 753.7,424.1 749.4,427.6" fill="none" stroke="#5a5ab8" stroke-width="1.05"/>
<polygon points="779.6,434.6 783.9,431.1 788.2,434.6 783.9,438.1" fill="none" stroke="#5a5ab8" stroke-width="1.05"/>
<polygon points="796.7,439.7 801.0,436.2 805.3,439.7 801.0,443.2" fill="none" stroke="#5a5ab8" stroke-width="1.05"/>
<polygon points="826.7,450.2 831.0,446.7 835.3,450.2 831.0,453.7" fill="none" stroke="#5a5ab8" stroke-width="1.05"/>
<polygon points="867.8,461.9 872.1,458.4 876.4,461.9 872.1,465.4" fill="none" stroke="#5a5ab8" stroke-width="1.05"/>
<polygon points="739.50,415.90 740.44,417.81 743.36,417.83 741.02,419.04 741.89,420.97 739.50,419.80 737.11,420.97 737.98,419.04 735.64,417.83 738.56,417.81" fill="#7fe4e6" fill-opacity="0.25" stroke="#7fe4e6" stroke-width="0.95"/>
<polygon points="789.90,429.70 790.84,431.61 793.76,431.63 791.42,432.84 792.29,434.77 789.90,433.60 787.51,434.77 788.38,432.84 786.04,431.63 788.96,431.61" fill="#7fe4e6" fill-opacity="0.25" stroke="#7fe4e6" stroke-width="0.95"/>
<polygon points="822.90,436.90 823.84,438.81 826.76,438.83 824.42,440.04 825.29,441.97 822.90,440.80 820.51,441.97 821.38,440.04 819.04,438.83 821.96,438.81" fill="#7fe4e6" fill-opacity="0.25" stroke="#7fe4e6" stroke-width="0.95"/>
<polygon points="871.50,455.80 872.44,457.71 875.36,457.73 873.02,458.94 873.89,460.87 871.50,459.70 869.11,460.87 869.98,458.94 867.64,457.73 870.56,457.71" fill="#7fe4e6" fill-opacity="0.25" stroke="#7fe4e6" stroke-width="0.95"/>
<polygon points="671.30,403.30 672.49,404.73 674.82,404.75 673.68,406.20 674.82,407.65 672.49,407.67 671.30,409.10 670.11,407.67 667.78,407.65 668.92,406.20 667.78,404.75 670.11,404.73" fill="#e882e8" fill-opacity="0.2" stroke="#e882e8" stroke-width="0.95"/>
<polygon points="725.10,415.80 726.29,417.23 728.62,417.25 727.48,418.70 728.62,420.15 726.29,420.17 725.10,421.60 723.91,420.17 721.58,420.15 722.72,418.70 721.58,417.25 723.91,417.23" fill="#e882e8" fill-opacity="0.2" stroke="#e882e8" stroke-width="0.95"/>
<polygon points="767.40,424.20 768.59,425.63 770.92,425.65 769.78,427.10 770.92,428.55 768.59,428.57 767.40,430.00 766.21,428.57 763.88,428.55 765.02,427.10 763.88,425.65 766.21,425.63" fill="#e882e8" fill-opacity="0.2" stroke="#e882e8" stroke-width="0.95"/>
<polygon points="814.50,437.70 815.69,439.13 818.02,439.15 816.88,440.60 818.02,442.05 815.69,442.07 814.50,443.50 813.31,442.07 810.98,442.05 812.12,440.60 810.98,439.15 813.31,439.13" fill="#e882e8" fill-opacity="0.2" stroke="#e882e8" stroke-width="0.95"/>
<polygon points="836.40,447.30 837.59,448.73 839.92,448.75 838.78,450.20 839.92,451.65 837.59,451.67 836.40,453.10 835.21,451.67 832.88,451.65 834.02,450.20 832.88,448.75 835.21,448.73" fill="#e882e8" fill-opacity="0.2" stroke="#e882e8" stroke-width="0.95"/>
<polygon points="850.50,458.10 851.69,459.53 854.02,459.55 852.88,461.00 854.02,462.45 851.69,462.47 850.50,463.90 849.31,462.47 846.98,462.45 848.12,461.00 846.98,459.55 849.31,459.53" fill="#e882e8" fill-opacity="0.2" stroke="#e882e8" stroke-width="0.95"/>
<polygon points="893.10,464.10 894.29,465.53 896.62,465.55 895.48,467.00 896.62,468.45 894.29,468.47 893.10,469.90 891.91,468.47 889.58,468.45 890.72,467.00 889.58,465.55 891.91,465.53" fill="#e882e8" fill-opacity="0.2" stroke="#e882e8" stroke-width="0.95"/>
<polygon points="930.60,468.60 931.79,470.03 934.12,470.05 932.98,471.50 934.12,472.95 931.79,472.97 930.60,474.40 929.41,472.97 927.08,472.95 928.22,471.50 927.08,470.05 929.41,470.03" fill="#e882e8" fill-opacity="0.2" stroke="#e882e8" stroke-width="0.95"/>
<path d="M763.1,419.9 H771.7 M767.4,416.9 V422.9" fill="none" stroke="#1c1c1c" stroke-width="0.85"/>
<path d="M810.2,433.1 H818.8 M814.5,430.1 V436.1" fill="none" stroke="#1c1c1c" stroke-width="0.85"/>
<path d="M831.2,442.7 H839.8 M835.5,439.7 V445.7" fill="none" stroke="#1c1c1c" stroke-width="0.85"/>
<path d="M846.2,452.6 H854.8 M850.5,449.6 V455.6" fill="none" stroke="#1c1c1c" stroke-width="0.85"/>
<path d="M888.8,459.5 H897.4 M893.1,456.5 V462.5" fill="none" stroke="#1c1c1c" stroke-width="0.85"/>
<path d="M926.3,464.0 H934.9 M930.6,461.0 V467.0" fill="none" stroke="#1c1c1c" stroke-width="0.85"/>
<text transform="translate(951.60,420.30) rotate(0.05) scale(1.435,1)" text-anchor="end" font-size="7.70" fill="#222" stroke="#222" stroke-width="0.2"><tspan font-style="italic" font-size="6.6">γ</tspan> = 0.496532</text>
<text transform="translate(953.40,429.30) rotate(0.05) scale(1.435,1)" text-anchor="end" font-size="7.70" fill="#222" stroke="#222" stroke-width="0.2">eps = 28.6331</text>
</g>
</svg>
</body></html>
